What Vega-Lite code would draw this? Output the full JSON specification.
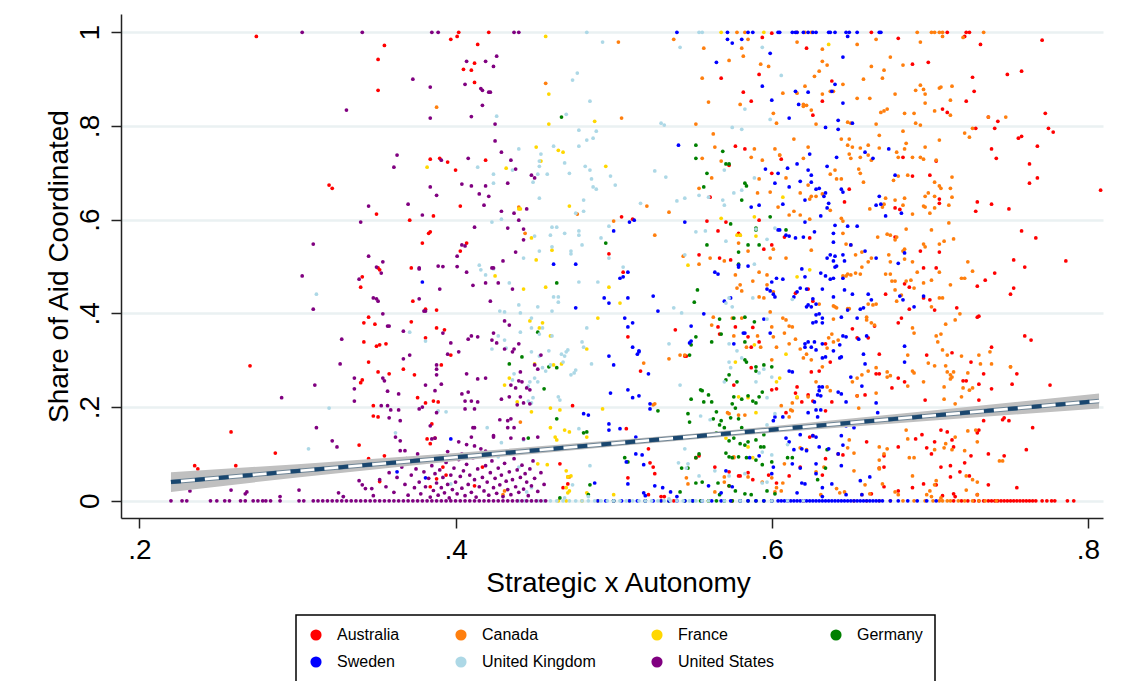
{
"$schema": "https://vega.github.io/schema/vega-lite/v6.json",
"width": 982, "height": 504,
"autosize": {"type": "none"},
"padding": {"left": 121, "top": 14, "right": 40, "bottom": 163},
"background": "white",
"config": {
 "view": {"stroke": null},
 "font": "Liberation Sans",
 "axis": {"domainColor": "#222222", "domainWidth": 1.5, "tickColor": "#222222", "tickWidth": 1.5, "tickSize": 10, "labelFont": "Liberation Sans", "labelFontSize": 28, "labelColor": "#000000", "titleFont": "Liberation Sans", "titleFontSize": 28, "titleFontWeight": "normal", "titleColor": "#000000", "gridColor": "#eaf1f2", "gridWidth": 2.5, "labelFlush": false, "labelOverlap": false},
 "axisX": {"grid": false, "labelPadding": 8, "titleBaseline": "alphabetic", "titleY": 73, "titleX": 497, "titleAlign": "center"},
 "axisY": {"grid": true, "labelAngle": -90, "labelAlign": "center", "labelBaseline": "alphabetic", "labelPadding": 13, "titleX": -48, "titleY": 252, "titleAlign": "center", "titleBaseline": "bottom", "titleAngle": -90},
 "legend": {"orient": "none", "legendX": 175, "legendY": 601, "columns": 4, "direction": "horizontal", "symbolType": "circle", "symbolSize": 125, "symbolStrokeWidth": 0, "symbolOpacity": 1, "labelFont": "Liberation Sans", "labelFontSize": 16, "labelColor": "#000000", "labelOffset": 13, "columnPadding": 53, "rowPadding": 11, "padding": 12, "strokeColor": "#000000", "strokeWidth": 1.5, "fillColor": "white", "gridAlign": "each"}
},
"datasets": {
 "fit": [
  {"x":0.22,"lo":0.019,"hi":0.061,"fit":0.040},
  {"x":0.30,"lo":0.050,"hi":0.078,"fit":0.0636},
  {"x":0.40,"lo":0.085,"hi":0.102,"fit":0.093},
  {"x":0.50,"lo":0.116,"hi":0.129,"fit":0.1225},
  {"x":0.55,"lo":0.131,"hi":0.143,"fit":0.137},
  {"x":0.60,"lo":0.145,"hi":0.159,"fit":0.1519},
  {"x":0.70,"lo":0.171,"hi":0.192,"fit":0.1813},
  {"x":0.807,"lo":0.197,"hi":0.229,"fit":0.213}
 ]
},
"layer": [
 {
  "data": {"values": [
{"c":"AU","x":0.274,"y":0.991},{"c":"AU","x":0.355,"y":0.972},{"c":"AU","x":0.351,"y":0.942},{"c":"AU","x":0.351,"y":0.876},{"c":"AU","x":0.397,"y":0.985},{"c":"AU","x":0.384,"y":0.729},{"c":"AU","x":0.39,"y":0.731},{"c":"AU","x":0.395,"y":0.723},{"c":"AU","x":0.32,"y":0.674},{"c":"AU","x":0.322,"y":0.667},{"c":"AU","x":0.35,"y":0.612},{"c":"AU","x":0.386,"y":0.608},{"c":"AU","x":0.371,"y":0.599},{"c":"AU","x":0.383,"y":0.571},{"c":"AU","x":0.384,"y":0.574},{"c":"AU","x":0.379,"y":0.55},{"c":"AU","x":0.372,"y":0.497},{"c":"AU","x":0.402,"y":1},{"c":"AU","x":0.421,"y":1},{"c":"AU","x":0.401,"y":0.991},{"c":"AU","x":0.414,"y":0.974},{"c":"AU","x":0.405,"y":0.921},{"c":"AU","x":0.41,"y":0.919},{"c":"AU","x":0.412,"y":0.934},{"c":"AU","x":0.412,"y":0.893},{"c":"AU","x":0.419,"y":0.727},{"c":"AU","x":0.4,"y":0.706},{"c":"AU","x":0.403,"y":0.629},{"c":"AU","x":0.407,"y":0.55},{"c":"AU","x":0.403,"y":0.533},{"c":"AU","x":0.497,"y":0.527},{"c":"AU","x":0.505,"y":0.606},{"c":"AU","x":0.512,"y":0.601},
{"c":"AU","x":0.341,"y":0.478},{"c":"AU","x":0.34,"y":0.456},{"c":"AU","x":0.351,"y":0.497},{"c":"AU","x":0.352,"y":0.493},{"c":"AU","x":0.373,"y":0.426},{"c":"AU","x":0.381,"y":0.409},{"c":"AU","x":0.388,"y":0.407},{"c":"AU","x":0.345,"y":0.392},{"c":"AU","x":0.342,"y":0.38},{"c":"AU","x":0.349,"y":0.377},{"c":"AU","x":0.342,"y":0.339},{"c":"AU","x":0.35,"y":0.33},{"c":"AU","x":0.352,"y":0.333},{"c":"AU","x":0.356,"y":0.335},{"c":"AU","x":0.345,"y":0.296},{"c":"AU","x":0.351,"y":0.275},{"c":"AU","x":0.358,"y":0.271},{"c":"AU","x":0.341,"y":0.258},{"c":"AU","x":0.34,"y":0.252},{"c":"AU","x":0.372,"y":0.382},{"c":"AU","x":0.374,"y":0.269},{"c":"AU","x":0.367,"y":0.281},{"c":"AU","x":0.381,"y":0.348},{"c":"AU","x":0.388,"y":0.369},{"c":"AU","x":0.393,"y":0.365},{"c":"AU","x":0.391,"y":0.29},{"c":"AU","x":0.397,"y":0.311},{"c":"AU","x":0.348,"y":0.203},{"c":"AU","x":0.348,"y":0.181},{"c":"AU","x":0.351,"y":0.179},{"c":"AU","x":0.376,"y":0.22},{"c":"AU","x":0.381,"y":0.209},{"c":"AU","x":0.386,"y":0.213},{"c":"AU","x":0.389,"y":0.211},{"c":"AU","x":0.387,"y":0.134},{"c":"AU","x":0.385,"y":0.164},{"c":"AU","x":0.384,"y":0.122},{"c":"AU","x":0.382,"y":0.132},{"c":"AU","x":0.339,"y":0.119},{"c":"AU","x":0.355,"y":0.096},{"c":"AU","x":0.345,"y":0.09},{"c":"AU","x":0.352,"y":0.041},{"c":"AU","x":0.384,"y":0.03},{"c":"AU","x":0.392,"y":0.072},{"c":"AU","x":0.394,"y":0.055},{"c":"AU","x":0.388,"y":0.047},{"c":"AU","x":0.27,"y":0.288},{"c":"AU","x":0.258,"y":0.147},{"c":"AU","x":0.261,"y":0.075},{"c":"AU","x":0.235,"y":0.075},{"c":"AU","x":0.237,"y":0.068},{"c":"AU","x":0.286,"y":0.102},
{"c":"AU","x":0.506,"y":0.488},{"c":"AU","x":0.509,"y":0.35},{"c":"AU","x":0.517,"y":0.277},{"c":"AU","x":0.474,"y":0.203},{"c":"AU","x":0.508,"y":0.154},{"c":"AU","x":0.466,"y":0.079},{"c":"AU","x":0.471,"y":0.036},{"c":"AU","x":0.468,"y":0.028},{"c":"AU","x":0.417,"y":0.072},{"c":"AU","x":0.412,"y":0.032},{"c":"AU","x":0.522,"y":0.111},{"c":"AU","x":0.523,"y":0.081},{"c":"AU","x":0.525,"y":0.072},{"c":"AU","x":0.509,"y":0.049},{"c":"AU","x":0.522,"y":0.013},{"c":"AU","x":0.526,"y":0.058},{"c":"AU","x":0.53,"y":0.009},{"c":"AU","x":0.532,"y":0.009},{"c":"AU","x":0.539,"y":0.365},{"c":"AU","x":0.545,"y":0.309},{"c":"AU","x":0.546,"y":0.309},{"c":"AU","x":0.566,"y":0.371},{"c":"AU","x":0.567,"y":0.356},{"c":"AU","x":0.577,"y":0.371},{"c":"AU","x":0.576,"y":0.247},{"c":"AU","x":0.587,"y":0.328},{"c":"AU","x":0.592,"y":0.339},{"c":"AU","x":0.585,"y":0.35},{"c":"AU","x":0.588,"y":0.37},{"c":"AU","x":0.554,"y":0.096},{"c":"AU","x":0.552,"y":0.092},{"c":"AU","x":0.564,"y":0.072},{"c":"AU","x":0.573,"y":0.032},{"c":"AU","x":0.573,"y":0.062},{"c":"AU","x":0.579,"y":0.053},{"c":"AU","x":0.58,"y":0.053},{"c":"AU","x":0.585,"y":0.06},{"c":"AU","x":0.588,"y":0.045},{"c":"AU","x":0.598,"y":0.055},{"c":"AU","x":0.603,"y":0.038},{"c":"AU","x":0.6,"y":0.237},{"c":"AU","x":0.603,"y":0.239},{"c":"AU","x":0.587,"y":0.284},
{"c":"AU","x":0.568,"y":0.902},{"c":"AU","x":0.582,"y":0.872},{"c":"AU","x":0.587,"y":0.853},{"c":"AU","x":0.594,"y":0.989},{"c":"AU","x":0.592,"y":0.91},{"c":"AU","x":0.6,"y":0.998},{"c":"AU","x":0.577,"y":0.757},{"c":"AU","x":0.583,"y":0.751},{"c":"AU","x":0.573,"y":0.716},{"c":"AU","x":0.606,"y":0.729},{"c":"AU","x":0.6,"y":0.699},{"c":"AU","x":0.561,"y":0.648},{"c":"AU","x":0.559,"y":0.597},{"c":"AU","x":0.571,"y":0.595},{"c":"AU","x":0.579,"y":0.571},{"c":"AU","x":0.592,"y":0.599},{"c":"AU","x":0.595,"y":0.537},{"c":"AU","x":0.6,"y":0.546},{"c":"AU","x":0.566,"y":0.576},{"c":"AU","x":0.554,"y":0.525},{"c":"AU","x":0.567,"y":0.518},{"c":"AU","x":0.574,"y":0.514},
{"c":"AU","x":0.663,"y":1},{"c":"AU","x":0.711,"y":1},{"c":"AU","x":0.722,"y":0.991},{"c":"AU","x":0.723,"y":1},{"c":"AU","x":0.725,"y":1},{"c":"AU","x":0.68,"y":0.987},{"c":"AU","x":0.622,"y":0.966},{"c":"AU","x":0.732,"y":0.974},{"c":"AU","x":0.771,"y":0.983},{"c":"AU","x":0.699,"y":0.936},{"c":"AU","x":0.689,"y":0.932},{"c":"AU","x":0.727,"y":0.904},{"c":"AU","x":0.749,"y":0.91},{"c":"AU","x":0.758,"y":0.917},{"c":"AU","x":0.638,"y":0.896},{"c":"AU","x":0.632,"y":0.853},{"c":"AU","x":0.626,"y":0.823},{"c":"AU","x":0.728,"y":0.874},{"c":"AU","x":0.723,"y":0.853},{"c":"AU","x":0.708,"y":0.836},{"c":"AU","x":0.711,"y":0.829},{"c":"AU","x":0.743,"y":0.81},{"c":"AU","x":0.737,"y":0.819},{"c":"AU","x":0.773,"y":0.827},{"c":"AU","x":0.729,"y":0.795},{"c":"AU","x":0.741,"y":0.795},{"c":"AU","x":0.775,"y":0.795},{"c":"AU","x":0.778,"y":0.787},{"c":"AU","x":0.756,"y":0.774},{"c":"AU","x":0.758,"y":0.778},{"c":"AU","x":0.768,"y":0.757},{"c":"AU","x":0.739,"y":0.751},{"c":"AU","x":0.742,"y":0.731},{"c":"AU","x":0.763,"y":0.719},{"c":"AU","x":0.768,"y":0.689},{"c":"AU","x":0.763,"y":0.678},{"c":"AU","x":0.808,"y":0.663},{"c":"AU","x":0.683,"y":0.733},{"c":"AU","x":0.704,"y":0.725},{"c":"AU","x":0.689,"y":0.693},{"c":"AU","x":0.7,"y":0.695},{"c":"AU","x":0.649,"y":0.665},{"c":"AU","x":0.646,"y":0.638},{"c":"AU","x":0.706,"y":0.635},{"c":"AU","x":0.706,"y":0.644},{"c":"AU","x":0.73,"y":0.638},{"c":"AU","x":0.739,"y":0.633},{"c":"AU","x":0.729,"y":0.618},{"c":"AU","x":0.75,"y":0.623},{"c":"AU","x":0.678,"y":0.625},{"c":"AU","x":0.681,"y":0.622},{"c":"AU","x":0.624,"y":0.561},{"c":"AU","x":0.608,"y":0.563},{"c":"AU","x":0.678,"y":0.563},{"c":"AU","x":0.758,"y":0.576},{"c":"AU","x":0.767,"y":0.561},{"c":"AU","x":0.694,"y":0.533},{"c":"AU","x":0.706,"y":0.531},{"c":"AU","x":0.753,"y":0.514},{"c":"AU","x":0.76,"y":0.499},{"c":"AU","x":0.786,"y":0.512},{"c":"AU","x":0.696,"y":0.497},{"c":"AU","x":0.704,"y":0.497},
{"c":"AU","x":0.741,"y":0.486},{"c":"AU","x":0.735,"y":0.471},{"c":"AU","x":0.73,"y":0.458},{"c":"AU","x":0.753,"y":0.454},{"c":"AU","x":0.751,"y":0.441},{"c":"AU","x":0.672,"y":0.441},{"c":"AU","x":0.684,"y":0.463},{"c":"AU","x":0.687,"y":0.456},{"c":"AU","x":0.7,"y":0.429},{"c":"AU","x":0.703,"y":0.407},{"c":"AU","x":0.696,"y":0.433},{"c":"AU","x":0.687,"y":0.409},{"c":"AU","x":0.717,"y":0.412},{"c":"AU","x":0.68,"y":0.38},{"c":"AU","x":0.682,"y":0.39},{"c":"AU","x":0.731,"y":0.394},{"c":"AU","x":0.73,"y":0.392},{"c":"AU","x":0.76,"y":0.352},{"c":"AU","x":0.764,"y":0.343},{"c":"AU","x":0.739,"y":0.328},{"c":"AU","x":0.714,"y":0.316},{"c":"AU","x":0.698,"y":0.311},{"c":"AU","x":0.726,"y":0.296},{"c":"AU","x":0.734,"y":0.271},{"c":"AU","x":0.755,"y":0.271},{"c":"AU","x":0.721,"y":0.256},{"c":"AU","x":0.723,"y":0.256},{"c":"AU","x":0.731,"y":0.249},{"c":"AU","x":0.739,"y":0.239},{"c":"AU","x":0.752,"y":0.249},{"c":"AU","x":0.776,"y":0.247},{"c":"AU","x":0.668,"y":0.313},{"c":"AU","x":0.68,"y":0.262},{"c":"AU","x":0.676,"y":0.241},{"c":"AU","x":0.684,"y":0.254},{"c":"AU","x":0.668,"y":0.271},{"c":"AU","x":0.666,"y":0.271},{"c":"AU","x":0.697,"y":0.215},{"c":"AU","x":0.731,"y":0.215},{"c":"AU","x":0.637,"y":0.296},{"c":"AU","x":0.63,"y":0.277},{"c":"AU","x":0.625,"y":0.275},{"c":"AU","x":0.616,"y":0.243},{"c":"AU","x":0.615,"y":0.23},{"c":"AU","x":0.619,"y":0.211},{"c":"AU","x":0.626,"y":0.213},{"c":"AU","x":0.623,"y":0.226},{"c":"AU","x":0.638,"y":0.211},{"c":"AU","x":0.634,"y":0.192},{"c":"AU","x":0.609,"y":0.188},{"c":"AU","x":0.654,"y":0.224},{"c":"AU","x":0.659,"y":0.226},{"c":"AU","x":0.651,"y":0.367},{"c":"AU","x":0.654,"y":0.348},{"c":"AU","x":0.661,"y":0.348},{"c":"AU","x":0.665,"y":0.373},{"c":"AU","x":0.623,"y":0.452},{"c":"AU","x":0.615,"y":0.443},{"c":"AU","x":0.626,"y":0.426},{"c":"AU","x":0.634,"y":0.335},{"c":"AU","x":0.765,"y":0.156},{"c":"AU","x":0.747,"y":0.177},{"c":"AU","x":0.75,"y":0.171},{"c":"AU","x":0.746,"y":0.173},{"c":"AU","x":0.728,"y":0.192},{"c":"AU","x":0.731,"y":0.151},{"c":"AU","x":0.73,"y":0.145},{"c":"AU","x":0.734,"y":0.171},{"c":"AU","x":0.707,"y":0.151},{"c":"AU","x":0.711,"y":0.147},{"c":"AU","x":0.714,"y":0.13},{"c":"AU","x":0.715,"y":0.115},{"c":"AU","x":0.722,"y":0.081},{"c":"AU","x":0.726,"y":0.096},{"c":"AU","x":0.691,"y":0.132},{"c":"AU","x":0.695,"y":0.141},{"c":"AU","x":0.703,"y":0.126},{"c":"AU","x":0.66,"y":0.126},{"c":"AU","x":0.68,"y":0.115},{"c":"AU","x":0.671,"y":0.096},{"c":"AU","x":0.671,"y":0.072},{"c":"AU","x":0.668,"y":0.07},{"c":"AU","x":0.698,"y":0.113},{"c":"AU","x":0.701,"y":0.1},{"c":"AU","x":0.737,"y":0.1},{"c":"AU","x":0.747,"y":0.096},{"c":"AU","x":0.761,"y":0.109},{"c":"AU","x":0.707,"y":0.072},{"c":"AU","x":0.713,"y":0.075},{"c":"AU","x":0.713,"y":0.051},{"c":"AU","x":0.719,"y":0.062},{"c":"AU","x":0.725,"y":0.053},{"c":"AU","x":0.737,"y":0.034},{"c":"AU","x":0.755,"y":0.028},{"c":"AU","x":0.689,"y":0.028},{"c":"AU","x":0.696,"y":0.036},{"c":"AU","x":0.704,"y":0.034},{"c":"AU","x":0.708,"y":0.011},{"c":"AU","x":0.715,"y":0.015},{"c":"AU","x":0.716,"y":0.009},{"c":"AU","x":0.73,"y":0.013},{"c":"AU","x":0.624,"y":0.136},{"c":"AU","x":0.626,"y":0.139},{"c":"AU","x":0.645,"y":0.098},{"c":"AU","x":0.642,"y":0.1},{"c":"AU","x":0.634,"y":0.09},{"c":"AU","x":0.618,"y":0.072},{"c":"AU","x":0.611,"y":0.053},{"c":"AU","x":0.632,"y":0.055},{"c":"AU","x":0.671,"y":0.03},{"c":"AU","x":0.68,"y":0.021},{"c":"AU","x":0.663,"y":0.015},
{"c":"AU","x":0.538,"y":0},{"c":"AU","x":0.575,"y":0},{"c":"AU","x":0.62,"y":0},{"c":"AU","x":0.715,"y":0},{"c":"AU","x":0.72,"y":0},{"c":"AU","x":0.724,"y":0},{"c":"AU","x":0.728,"y":0},{"c":"AU","x":0.731,"y":0},{"c":"AU","x":0.734,"y":0},{"c":"AU","x":0.737,"y":0},{"c":"AU","x":0.739,"y":0},{"c":"AU","x":0.741,"y":0},{"c":"AU","x":0.743,"y":0},{"c":"AU","x":0.745,"y":0},{"c":"AU","x":0.747,"y":0},{"c":"AU","x":0.749,"y":0},{"c":"AU","x":0.751,"y":0},{"c":"AU","x":0.753,"y":0},{"c":"AU","x":0.755,"y":0},{"c":"AU","x":0.757,"y":0},{"c":"AU","x":0.759,"y":0},{"c":"AU","x":0.761,"y":0},{"c":"AU","x":0.763,"y":0},{"c":"AU","x":0.765,"y":0},{"c":"AU","x":0.767,"y":0},{"c":"AU","x":0.771,"y":0},{"c":"AU","x":0.774,"y":0},{"c":"AU","x":0.777,"y":0},{"c":"AU","x":0.779,"y":0},{"c":"AU","x":0.787,"y":0},{"c":"AU","x":0.791,"y":0},
{"c":"CA","x":0.616,"y":1},{"c":"CA","x":0.621,"y":1},{"c":"CA","x":0.625,"y":1},{"c":"CA","x":0.692,"y":1},{"c":"CA","x":0.701,"y":1},{"c":"CA","x":0.703,"y":1},{"c":"CA","x":0.706,"y":1},{"c":"CA","x":0.708,"y":1},{"c":"CA","x":0.708,"y":0.991},{"c":"CA","x":0.734,"y":1},{"c":"CA","x":0.721,"y":0.989},{"c":"CA","x":0.578,"y":1},{"c":"CA","x":0.583,"y":1},{"c":"CA","x":0.585,"y":0.985},{"c":"CA","x":0.538,"y":0.985},{"c":"CA","x":0.388,"y":0.84},
{"c":"CA","x":0.616,"y":0.979},{"c":"CA","x":0.632,"y":0.964},{"c":"CA","x":0.654,"y":0.974},{"c":"CA","x":0.666,"y":0.985},{"c":"CA","x":0.694,"y":0.979},{"c":"CA","x":0.632,"y":0.938},{"c":"CA","x":0.635,"y":0.93},{"c":"CA","x":0.675,"y":0.947},{"c":"CA","x":0.663,"y":0.927},{"c":"CA","x":0.671,"y":0.919},{"c":"CA","x":0.683,"y":0.93},{"c":"CA","x":0.63,"y":0.917},{"c":"CA","x":0.627,"y":0.906},{"c":"CA","x":0.67,"y":0.902},{"c":"CA","x":0.658,"y":0.9},{"c":"CA","x":0.621,"y":0.885},{"c":"CA","x":0.607,"y":0.87},{"c":"CA","x":0.616,"y":0.87},{"c":"CA","x":0.645,"y":0.889},{"c":"CA","x":0.632,"y":0.868},{"c":"CA","x":0.637,"y":0.874},{"c":"CA","x":0.639,"y":0.874},{"c":"CA","x":0.654,"y":0.859},{"c":"CA","x":0.662,"y":0.859},{"c":"CA","x":0.678,"y":0.868},{"c":"CA","x":0.691,"y":0.876},{"c":"CA","x":0.694,"y":0.887},{"c":"CA","x":0.696,"y":0.878},{"c":"CA","x":0.697,"y":0.868},{"c":"CA","x":0.706,"y":0.881},{"c":"CA","x":0.707,"y":0.883},{"c":"CA","x":0.714,"y":0.885},{"c":"CA","x":0.713,"y":0.855},{"c":"CA","x":0.697,"y":0.849},{"c":"CA","x":0.62,"y":0.846},{"c":"CA","x":0.622,"y":0.844},{"c":"CA","x":0.62,"y":0.842},{"c":"CA","x":0.625,"y":0.834},{"c":"CA","x":0.628,"y":0.804},{"c":"CA","x":0.669,"y":0.829},{"c":"CA","x":0.671,"y":0.832},{"c":"CA","x":0.673,"y":0.836},{"c":"CA","x":0.684,"y":0.827},{"c":"CA","x":0.69,"y":0.827},{"c":"CA","x":0.703,"y":0.832},{"c":"CA","x":0.713,"y":0.823},{"c":"CA","x":0.737,"y":0.819},{"c":"CA","x":0.748,"y":0.819},{"c":"CA","x":0.648,"y":0.808},{"c":"CA","x":0.65,"y":0.806},{"c":"CA","x":0.666,"y":0.804},{"c":"CA","x":0.691,"y":0.806},{"c":"CA","x":0.694,"y":0.802},{"c":"CA","x":0.727,"y":0.795},{"c":"CA","x":0.725,"y":0.776},{"c":"CA","x":0.722,"y":0.785},{"c":"CA","x":0.683,"y":0.789},{"c":"CA","x":0.668,"y":0.78},{"c":"CA","x":0.644,"y":0.772},{"c":"CA","x":0.649,"y":0.772},{"c":"CA","x":0.614,"y":0.772},{"c":"CA","x":0.685,"y":0.763},{"c":"CA","x":0.706,"y":0.77},{"c":"CA","x":0.648,"y":0.759},{"c":"CA","x":0.651,"y":0.755},{"c":"CA","x":0.656,"y":0.753},{"c":"CA","x":0.661,"y":0.759},{"c":"CA","x":0.668,"y":0.753},{"c":"CA","x":0.679,"y":0.744},{"c":"CA","x":0.684,"y":0.751},{"c":"CA","x":0.697,"y":0.755},{"c":"CA","x":0.623,"y":0.755},{"c":"CA","x":0.649,"y":0.74},{"c":"CA","x":0.65,"y":0.731},{"c":"CA","x":0.656,"y":0.733},{"c":"CA","x":0.661,"y":0.738},{"c":"CA","x":0.663,"y":0.727},{"c":"CA","x":0.68,"y":0.733},{"c":"CA","x":0.689,"y":0.733},{"c":"CA","x":0.694,"y":0.733},{"c":"CA","x":0.696,"y":0.729},{"c":"CA","x":0.704,"y":0.727},{"c":"CA","x":0.62,"y":0.731},{"c":"CA","x":0.605,"y":0.738},{"c":"CA","x":0.64,"y":0.706},{"c":"CA","x":0.637,"y":0.697},{"c":"CA","x":0.655,"y":0.708},{"c":"CA","x":0.656,"y":0.699},{"c":"CA","x":0.641,"y":0.687},{"c":"CA","x":0.644,"y":0.687},{"c":"CA","x":0.658,"y":0.68},{"c":"CA","x":0.677,"y":0.684},{"c":"CA","x":0.68,"y":0.693},{"c":"CA","x":0.686,"y":0.695},{"c":"CA","x":0.703,"y":0.68},{"c":"CA","x":0.706,"y":0.672},{"c":"CA","x":0.707,"y":0.667},{"c":"CA","x":0.714,"y":0.691},{"c":"CA","x":0.609,"y":0.689},{"c":"CA","x":0.623,"y":0.674},{"c":"CA","x":0.618,"y":0.657},{"c":"CA","x":0.632,"y":0.655},{"c":"CA","x":0.628,"y":0.65},{"c":"CA","x":0.624,"y":0.644},{"c":"CA","x":0.625,"y":0.65},{"c":"CA","x":0.672,"y":0.646},{"c":"CA","x":0.678,"y":0.642},{"c":"CA","x":0.684,"y":0.646},{"c":"CA","x":0.697,"y":0.65},{"c":"CA","x":0.703,"y":0.65},{"c":"CA","x":0.699,"y":0.657},{"c":"CA","x":0.714,"y":0.648},{"c":"CA","x":0.713,"y":0.667},{"c":"CA","x":0.671,"y":0.633},{"c":"CA","x":0.67,"y":0.627},{"c":"CA","x":0.662,"y":0.623},{"c":"CA","x":0.683,"y":0.631},{"c":"CA","x":0.696,"y":0.629},{"c":"CA","x":0.697,"y":0.627},{"c":"CA","x":0.703,"y":0.625},{"c":"CA","x":0.7,"y":0.614},{"c":"CA","x":0.689,"y":0.612},{"c":"CA","x":0.712,"y":0.631},{"c":"CA","x":0.614,"y":0.618},{"c":"CA","x":0.611,"y":0.61},{"c":"CA","x":0.618,"y":0.61},{"c":"CA","x":0.637,"y":0.62},{"c":"CA","x":0.644,"y":0.603},{"c":"CA","x":0.645,"y":0.597},{"c":"CA","x":0.624,"y":0.601},{"c":"CA","x":0.712,"y":0.593},{"c":"CA","x":0.645,"y":0.571},{"c":"CA","x":0.667,"y":0.563},{"c":"CA","x":0.673,"y":0.569},{"c":"CA","x":0.675,"y":0.567},{"c":"CA","x":0.678,"y":0.557},{"c":"CA","x":0.685,"y":0.58},{"c":"CA","x":0.679,"y":0.563},{"c":"CA","x":0.696,"y":0.548},{"c":"CA","x":0.697,"y":0.542},{"c":"CA","x":0.684,"y":0.537},{"c":"CA","x":0.683,"y":0.533},{"c":"CA","x":0.706,"y":0.548},{"c":"CA","x":0.709,"y":0.554},{"c":"CA","x":0.715,"y":0.559},{"c":"CA","x":0.701,"y":0.578},{"c":"CA","x":0.647,"y":0.548},{"c":"CA","x":0.65,"y":0.546},{"c":"CA","x":0.653,"y":0.525},{"c":"CA","x":0.657,"y":0.531},{"c":"CA","x":0.661,"y":0.51},{"c":"CA","x":0.663,"y":0.518},{"c":"CA","x":0.674,"y":0.525},{"c":"CA","x":0.675,"y":0.51},{"c":"CA","x":0.684,"y":0.516},{"c":"CA","x":0.689,"y":0.51},{"c":"CA","x":0.724,"y":0.51},{"c":"CA","x":0.625,"y":0.535},{"c":"CA","x":0.609,"y":0.518},{"c":"CA","x":0.657,"y":0.499},
{"c":"CA","x":0.648,"y":0.484},{"c":"CA","x":0.65,"y":0.482},{"c":"CA","x":0.653,"y":0.486},{"c":"CA","x":0.656,"y":0.484},{"c":"CA","x":0.672,"y":0.484},{"c":"CA","x":0.675,"y":0.484},{"c":"CA","x":0.678,"y":0.469},{"c":"CA","x":0.676,"y":0.469},{"c":"CA","x":0.692,"y":0.488},{"c":"CA","x":0.706,"y":0.488},{"c":"CA","x":0.722,"y":0.475},{"c":"CA","x":0.727,"y":0.49},{"c":"CA","x":0.685,"y":0.469},{"c":"CA","x":0.688,"y":0.471},{"c":"CA","x":0.69,"y":0.454},{"c":"CA","x":0.696,"y":0.465},{"c":"CA","x":0.701,"y":0.471},{"c":"CA","x":0.713,"y":0.461},{"c":"CA","x":0.72,"y":0.475},{"c":"CA","x":0.678,"y":0.45},{"c":"CA","x":0.682,"y":0.439},{"c":"CA","x":0.679,"y":0.426},{"c":"CA","x":0.661,"y":0.42},{"c":"CA","x":0.666,"y":0.42},{"c":"CA","x":0.706,"y":0.433},{"c":"CA","x":0.708,"y":0.433},{"c":"CA","x":0.701,"y":0.414},{"c":"CA","x":0.719,"y":0.399},{"c":"CA","x":0.716,"y":0.386},{"c":"CA","x":0.71,"y":0.377},{"c":"CA","x":0.707,"y":0.356},{"c":"CA","x":0.705,"y":0.339},{"c":"CA","x":0.704,"y":0.352},{"c":"CA","x":0.689,"y":0.369},{"c":"CA","x":0.69,"y":0.358},{"c":"CA","x":0.686,"y":0.311},{"c":"CA","x":0.699,"y":0.294},{"c":"CA","x":0.703,"y":0.288},{"c":"CA","x":0.708,"y":0.322},{"c":"CA","x":0.711,"y":0.311},{"c":"CA","x":0.72,"y":0.309},{"c":"CA","x":0.731,"y":0.311},{"c":"CA","x":0.738,"y":0.318},{"c":"CA","x":0.732,"y":0.292},{"c":"CA","x":0.739,"y":0.292},{"c":"CA","x":0.751,"y":0.286},{"c":"CA","x":0.71,"y":0.288},{"c":"CA","x":0.711,"y":0.275},{"c":"CA","x":0.715,"y":0.275},{"c":"CA","x":0.713,"y":0.269},{"c":"CA","x":0.714,"y":0.264},{"c":"CA","x":0.713,"y":0.26},{"c":"CA","x":0.724,"y":0.273},{"c":"CA","x":0.721,"y":0.241},{"c":"CA","x":0.727,"y":0.241},{"c":"CA","x":0.725,"y":0.236},{"c":"CA","x":0.709,"y":0.243},{"c":"CA","x":0.709,"y":0.217},{"c":"CA","x":0.72,"y":0.222},{"c":"CA","x":0.716,"y":0.207},{"c":"CA","x":0.689,"y":0.277},{"c":"CA","x":0.69,"y":0.273},{"c":"CA","x":0.696,"y":0.254},{"c":"CA","x":0.686,"y":0.245},{"c":"CA","x":0.673,"y":0.275},{"c":"CA","x":0.666,"y":0.284},{"c":"CA","x":0.675,"y":0.267},{"c":"CA","x":0.673,"y":0.264},{"c":"CA","x":0.666,"y":0.23},{"c":"CA","x":0.654,"y":0.224},{"c":"CA","x":0.655,"y":0.198},{"c":"CA","x":0.657,"y":0.269},{"c":"CA","x":0.654,"y":0.262},{"c":"CA","x":0.651,"y":0.254},{"c":"CA","x":0.661,"y":0.277},{"c":"CA","x":0.664,"y":0.418},{"c":"CA","x":0.64,"y":0.414},{"c":"CA","x":0.641,"y":0.412},{"c":"CA","x":0.639,"y":0.388},{"c":"CA","x":0.638,"y":0.356},{"c":"CA","x":0.639,"y":0.339},{"c":"CA","x":0.642,"y":0.343},{"c":"CA","x":0.632,"y":0.286},{"c":"CA","x":0.628,"y":0.254},{"c":"CA","x":0.635,"y":0.243},{"c":"CA","x":0.637,"y":0.235},{"c":"CA","x":0.623,"y":0.222},{"c":"CA","x":0.62,"y":0.305},{"c":"CA","x":0.622,"y":0.313},{"c":"CA","x":0.625,"y":0.301},{"c":"CA","x":0.618,"y":0.324},{"c":"CA","x":0.608,"y":0.358},{"c":"CA","x":0.615,"y":0.345},{"c":"CA","x":0.611,"y":0.335},{"c":"CA","x":0.613,"y":0.209},{"c":"CA","x":0.616,"y":0.22},{"c":"CA","x":0.612,"y":0.194},{"c":"CA","x":0.606,"y":0.203},{"c":"CA","x":0.607,"y":0.39},{"c":"CA","x":0.609,"y":0.386},{"c":"CA","x":0.613,"y":0.371},{"c":"CA","x":0.611,"y":0.373},{"c":"CA","x":0.636,"y":0.348},{"c":"CA","x":0.635,"y":0.326},{"c":"CA","x":0.645,"y":0.48},{"c":"CA","x":0.647,"y":0.48},{"c":"CA","x":0.63,"y":0.42},{"c":"CA","x":0.639,"y":0.416},{"c":"CA","x":0.649,"y":0.41},{"c":"CA","x":0.648,"y":0.41},{"c":"CA","x":0.66,"y":0.392},{"c":"CA","x":0.66,"y":0.386},{"c":"CA","x":0.663,"y":0.38},{"c":"CA","x":0.665,"y":0.375},{"c":"CA","x":0.649,"y":0.13},{"c":"CA","x":0.652,"y":0.102},{"c":"CA","x":0.648,"y":0.113},{"c":"CA","x":0.668,"y":0.115},{"c":"CA","x":0.673,"y":0.111},{"c":"CA","x":0.668,"y":0.087},{"c":"CA","x":0.671,"y":0.1},{"c":"CA","x":0.668,"y":0.07},{"c":"CA","x":0.668,"y":0.068},{"c":"CA","x":0.685,"y":0.151},{"c":"CA","x":0.686,"y":0.132},{"c":"CA","x":0.687,"y":0.092},{"c":"CA","x":0.69,"y":0.092},{"c":"CA","x":0.689,"y":0.053},{"c":"CA","x":0.703,"y":0.109},{"c":"CA","x":0.709,"y":0.113},{"c":"CA","x":0.71,"y":0.122},{"c":"CA","x":0.714,"y":0.109},{"c":"CA","x":0.704,"y":0.043},{"c":"CA","x":0.703,"y":0.034},{"c":"CA","x":0.698,"y":0.013},{"c":"CA","x":0.7,"y":0.021},{"c":"CA","x":0.701,"y":0.009},{"c":"CA","x":0.707,"y":0.006},{"c":"CA","x":0.716,"y":0.136},{"c":"CA","x":0.724,"y":0.149},{"c":"CA","x":0.729,"y":0.151},{"c":"CA","x":0.73,"y":0.126},{"c":"CA","x":0.722,"y":0.107},{"c":"CA","x":0.744,"y":0.085},{"c":"CA","x":0.746,"y":0.085},{"c":"CA","x":0.751,"y":0.286},{"c":"CA","x":0.723,"y":0.053},{"c":"CA","x":0.727,"y":0.045},{"c":"CA","x":0.73,"y":0.04},{"c":"CA","x":0.73,"y":0.013},{"c":"CA","x":0.723,"y":0.023},{"c":"CA","x":0.652,"y":0.064},{"c":"CA","x":0.659,"y":0.034},{"c":"CA","x":0.662,"y":0.015},{"c":"CA","x":0.657,"y":0.013},{"c":"CA","x":0.67,"y":0.036},{"c":"CA","x":0.678,"y":0.019},{"c":"CA","x":0.68,"y":0.013},{"c":"CA","x":0.641,"y":0.026},{"c":"CA","x":0.643,"y":0.017},{"c":"CA","x":0.646,"y":0.019},{"c":"CA","x":0.618,"y":0.113},{"c":"CA","x":0.622,"y":0.109},{"c":"CA","x":0.608,"y":0.079},{"c":"CA","x":0.628,"y":0.062},{"c":"CA","x":0.633,"y":0.072},{"c":"CA","x":0.631,"y":0.013},{"c":"CA","x":0.607,"y":0.038},{"c":"CA","x":0.606,"y":0.021},{"c":"CA","x":0.613,"y":0.192},{"c":"CA","x":0.611,"y":0.179},
{"c":"CA","x":0.552,"y":0.804},{"c":"CA","x":0.563,"y":0.783},{"c":"CA","x":0.564,"y":0.755},{"c":"CA","x":0.556,"y":0.731},{"c":"CA","x":0.568,"y":0.725},{"c":"CA","x":0.562,"y":0.689},{"c":"CA","x":0.554,"y":0.667},{"c":"CA","x":0.581,"y":0.966},{"c":"CA","x":0.582,"y":0.949},{"c":"CA","x":0.573,"y":0.94},{"c":"CA","x":0.556,"y":0.902},{"c":"CA","x":0.557,"y":0.966},{"c":"CA","x":0.56,"y":0.851},{"c":"CA","x":0.58,"y":0.846},{"c":"CA","x":0.593,"y":0.932},{"c":"CA","x":0.598,"y":0.927},{"c":"CA","x":0.601,"y":0.827},{"c":"CA","x":0.603,"y":0.806},{"c":"CA","x":0.602,"y":0.751},{"c":"CA","x":0.605,"y":0.738},{"c":"CA","x":0.589,"y":0.751},{"c":"CA","x":0.587,"y":0.733},{"c":"CA","x":0.594,"y":0.727},{"c":"CA","x":0.592,"y":0.687},{"c":"CA","x":0.591,"y":0.657},{"c":"CA","x":0.599,"y":0.659},{"c":"CA","x":0.604,"y":0.627},{"c":"CA","x":0.601,"y":0.537},{"c":"CA","x":0.599,"y":0.518},{"c":"CA","x":0.585,"y":0.533},{"c":"CA","x":0.579,"y":0.55},{"c":"CA","x":0.58,"y":0.567},{"c":"CA","x":0.561,"y":0.518},{"c":"CA","x":0.554,"y":0.505},{"c":"CA","x":0.544,"y":0.522},{"c":"CA","x":0.57,"y":0.512},{"c":"CA","x":0.535,"y":0.616},{"c":"CA","x":0.521,"y":0.629},{"c":"CA","x":0.526,"y":0.567},{"c":"CA","x":0.5,"y":0.597},{"c":"CA","x":0.44,"y":0.627},{"c":"CA","x":0.444,"y":0.571},{"c":"CA","x":0.477,"y":0.612},{"c":"CA","x":0.503,"y":0.979},{"c":"CA","x":0.457,"y":0.891},{"c":"CA","x":0.505,"y":0.817},
{"c":"CA","x":0.519,"y":0.294},{"c":"CA","x":0.526,"y":0.207},{"c":"CA","x":0.525,"y":0.205},{"c":"CA","x":0.535,"y":0.303},{"c":"CA","x":0.542,"y":0.311},{"c":"CA","x":0.545,"y":0.311},{"c":"CA","x":0.441,"y":0.168},{"c":"CA","x":0.471,"y":0.051},{"c":"CA","x":0.472,"y":0.051},{"c":"CA","x":0.431,"y":0.021},{"c":"CA","x":0.43,"y":0.013},{"c":"CA","x":0.546,"y":0.049},{"c":"CA","x":0.547,"y":0.036},{"c":"CA","x":0.57,"y":0.051},{"c":"CA","x":0.57,"y":0.04},{"c":"CA","x":0.564,"y":0.019},{"c":"CA","x":0.572,"y":0.188},{"c":"CA","x":0.576,"y":0.094},{"c":"CA","x":0.576,"y":0.092},{"c":"CA","x":0.585,"y":0.051},{"c":"CA","x":0.594,"y":0.04},{"c":"CA","x":0.6,"y":0.049},{"c":"CA","x":0.603,"y":0.028},{"c":"CA","x":0.602,"y":0.019},{"c":"CA","x":0.577,"y":0.482},{"c":"CA","x":0.58,"y":0.461},{"c":"CA","x":0.581,"y":0.448},{"c":"CA","x":0.578,"y":0.454},{"c":"CA","x":0.592,"y":0.488},{"c":"CA","x":0.597,"y":0.482},{"c":"CA","x":0.597,"y":0.461},{"c":"CA","x":0.601,"y":0.446},{"c":"CA","x":0.588,"y":0.469},{"c":"CA","x":0.595,"y":0.433},{"c":"CA","x":0.592,"y":0.435},{"c":"CA","x":0.599,"y":0.403},{"c":"CA","x":0.6,"y":0.371},{"c":"CA","x":0.601,"y":0.35},{"c":"CA","x":0.603,"y":0.328},{"c":"CA","x":0.6,"y":0.301},{"c":"CA","x":0.563,"y":0.392},{"c":"CA","x":0.562,"y":0.375},{"c":"CA","x":0.575,"y":0.39},{"c":"CA","x":0.576,"y":0.352},{"c":"CA","x":0.581,"y":0.39},{"c":"CA","x":0.584,"y":0.328},{"c":"CA","x":0.591,"y":0.352},{"c":"CA","x":0.593,"y":0.328},{"c":"CA","x":0.573,"y":0.186},{"c":"CA","x":0.579,"y":0.183},{"c":"CA","x":0.583,"y":0.183},
{"c":"CA","x":0.652,"y":0},{"c":"CA","x":0.66,"y":0},{"c":"CA","x":0.668,"y":0},{"c":"CA","x":0.675,"y":0},{"c":"CA","x":0.683,"y":0},{"c":"CA","x":0.69,"y":0},{"c":"CA","x":0.697,"y":0},{"c":"CA","x":0.702,"y":0},{"c":"CA","x":0.706,"y":0},{"c":"CA","x":0.708,"y":0},{"c":"CA","x":0.711,"y":0},{"c":"CA","x":0.713,"y":0},{"c":"CA","x":0.718,"y":0},{"c":"CA","x":0.722,"y":0},{"c":"CA","x":0.727,"y":0},{"c":"CA","x":0.731,"y":0},{"c":"CA","x":0.735,"y":0},{"c":"CA","x":0.742,"y":0},
{"c":"FR","x":0.457,"y":0.991},{"c":"FR","x":0.568,"y":1},{"c":"FR","x":0.595,"y":1},{"c":"FR","x":0.459,"y":0.868},{"c":"FR","x":0.459,"y":0.804},{"c":"FR","x":0.488,"y":0.81},{"c":"FR","x":0.451,"y":0.755},{"c":"FR","x":0.465,"y":0.748},{"c":"FR","x":0.468,"y":0.744},{"c":"FR","x":0.454,"y":0.725},{"c":"FR","x":0.432,"y":0.71},{"c":"FR","x":0.495,"y":0.714},{"c":"FR","x":0.472,"y":0.629},{"c":"FR","x":0.44,"y":0.623},{"c":"FR","x":0.441,"y":0.623},{"c":"FR","x":0.448,"y":0.561},{"c":"FR","x":0.451,"y":0.514},{"c":"FR","x":0.461,"y":0.535},{"c":"FR","x":0.568,"y":0.603},{"c":"FR","x":0.59,"y":0.565},{"c":"FR","x":0.589,"y":0.606},{"c":"FR","x":0.547,"y":0.503},{"c":"FR","x":0.578,"y":0.567},{"c":"FR","x":0.58,"y":0.567},{"c":"FR","x":0.382,"y":0.712},{"c":"FR","x":0.636,"y":0.974},{"c":"FR","x":0.607,"y":0.648},
{"c":"FR","x":0.425,"y":0.48},{"c":"FR","x":0.443,"y":0.452},{"c":"FR","x":0.457,"y":0.456},{"c":"FR","x":0.46,"y":0.352},{"c":"FR","x":0.462,"y":0.29},{"c":"FR","x":0.467,"y":0.292},{"c":"FR","x":0.447,"y":0.384},{"c":"FR","x":0.455,"y":0.38},{"c":"FR","x":0.453,"y":0.369},{"c":"FR","x":0.45,"y":0.292},{"c":"FR","x":0.434,"y":0.262},{"c":"FR","x":0.431,"y":0.247},{"c":"FR","x":0.439,"y":0.211},{"c":"FR","x":0.46,"y":0.198},{"c":"FR","x":0.466,"y":0.194},{"c":"FR","x":0.448,"y":0.19},{"c":"FR","x":0.46,"y":0.156},{"c":"FR","x":0.463,"y":0.136},{"c":"FR","x":0.464,"y":0.13},{"c":"FR","x":0.469,"y":0.151},{"c":"FR","x":0.472,"y":0.147},{"c":"FR","x":0.452,"y":0.079},{"c":"FR","x":0.458,"y":0.077},{"c":"FR","x":0.47,"y":0.064},{"c":"FR","x":0.471,"y":0.051},{"c":"FR","x":0.473,"y":0.053},{"c":"FR","x":0.47,"y":0.028},{"c":"FR","x":0.471,"y":0.017},{"c":"FR","x":0.472,"y":0.021},{"c":"FR","x":0.483,"y":0.017},{"c":"FR","x":0.5,"y":0.013},{"c":"FR","x":0.493,"y":0.196},{"c":"FR","x":0.483,"y":0.324},{"c":"FR","x":0.483,"y":0.136},{"c":"FR","x":0.49,"y":0.39},{"c":"FR","x":0.504,"y":0.422},{"c":"FR","x":0.497,"y":0.456},{"c":"FR","x":0.589,"y":0.333},{"c":"FR","x":0.59,"y":0.188},{"c":"FR","x":0.585,"y":0.22},{"c":"FR","x":0.603,"y":0.254},{"c":"FR","x":0.577,"y":0.296},{"c":"FR","x":0.579,"y":0.222},{"c":"FR","x":0.588,"y":0.092},{"c":"FR","x":0.585,"y":0.115},{"c":"FR","x":0.571,"y":0.134},{"c":"FR","x":0.616,"y":0.478},{"c":"FR","x":0.624,"y":0.493},{"c":"FR","x":0.605,"y":0.262},{"c":"FR","x":0.616,"y":0.222},{"c":"FR","x":0.609,"y":0.313},
{"c":"FR","x":0.465,"y":0},{"c":"FR","x":0.47,"y":0},{"c":"FR","x":0.48,"y":0},{"c":"FR","x":0.49,"y":0},{"c":"FR","x":0.5,"y":0},{"c":"FR","x":0.51,"y":0},{"c":"FR","x":0.53,"y":0},{"c":"FR","x":0.56,"y":0},
{"c":"DE","x":0.467,"y":0.819},{"c":"DE","x":0.552,"y":0.759},{"c":"DE","x":0.552,"y":0.731},{"c":"DE","x":0.569,"y":0.746},{"c":"DE","x":0.571,"y":0.719},{"c":"DE","x":0.573,"y":0.719},{"c":"DE","x":0.559,"y":0.699},{"c":"DE","x":0.557,"y":0.67},{"c":"DE","x":0.584,"y":0.672},{"c":"DE","x":0.583,"y":0.678},{"c":"DE","x":0.581,"y":0.642},{"c":"DE","x":0.599,"y":0.606},{"c":"DE","x":0.574,"y":0.591},{"c":"DE","x":0.59,"y":0.582},{"c":"DE","x":0.559,"y":0.546},{"c":"DE","x":0.585,"y":0.546},{"c":"DE","x":0.592,"y":0.546},{"c":"DE","x":0.579,"y":0.531},{"c":"DE","x":0.59,"y":0.578},{"c":"DE","x":0.579,"y":0.505},{"c":"DE","x":0.495,"y":0.55},{"c":"DE","x":0.464,"y":0.465},{"c":"DE","x":0.442,"y":0.307},{"c":"DE","x":0.434,"y":0.292},{"c":"DE","x":0.459,"y":0.286},{"c":"DE","x":0.464,"y":0.284},{"c":"DE","x":0.452,"y":0.36},{"c":"DE","x":0.456,"y":0.239},{"c":"DE","x":0.446,"y":0.134},{"c":"DE","x":0.464,"y":0.175},{"c":"DE","x":0.481,"y":0.145},{"c":"DE","x":0.483,"y":0.147},{"c":"DE","x":0.485,"y":0.034},{"c":"DE","x":0.484,"y":0.013},{"c":"DE","x":0.466,"y":0.006},
{"c":"DE","x":0.553,"y":0.45},{"c":"DE","x":0.551,"y":0.424},{"c":"DE","x":0.552,"y":0.35},{"c":"DE","x":0.549,"y":0.333},{"c":"DE","x":0.548,"y":0.311},{"c":"DE","x":0.555,"y":0.237},{"c":"DE","x":0.556,"y":0.235},{"c":"DE","x":0.549,"y":0.217},{"c":"DE","x":0.557,"y":0.211},{"c":"DE","x":0.56,"y":0.226},{"c":"DE","x":0.562,"y":0.211},{"c":"DE","x":0.547,"y":0.186},{"c":"DE","x":0.548,"y":0.168},{"c":"DE","x":0.565,"y":0.19},{"c":"DE","x":0.563,"y":0.175},{"c":"DE","x":0.568,"y":0.171},{"c":"DE","x":0.574,"y":0.177},{"c":"DE","x":0.579,"y":0.175},{"c":"DE","x":0.567,"y":0.162},{"c":"DE","x":0.57,"y":0.156},{"c":"DE","x":0.573,"y":0.128},{"c":"DE","x":0.576,"y":0.134},{"c":"DE","x":0.58,"y":0.122},{"c":"DE","x":0.583,"y":0.119},{"c":"DE","x":0.585,"y":0.126},{"c":"DE","x":0.59,"y":0.13},{"c":"DE","x":0.593,"y":0.115},{"c":"DE","x":0.595,"y":0.115},{"c":"DE","x":0.595,"y":0.141},{"c":"DE","x":0.588,"y":0.147},{"c":"DE","x":0.581,"y":0.156},{"c":"DE","x":0.562,"y":0.339},{"c":"DE","x":0.568,"y":0.356},{"c":"DE","x":0.567,"y":0.388},{"c":"DE","x":0.576,"y":0.39},{"c":"DE","x":0.583,"y":0.392},{"c":"DE","x":0.589,"y":0.382},{"c":"DE","x":0.583,"y":0.339},{"c":"DE","x":0.573,"y":0.269},{"c":"DE","x":0.571,"y":0.258},{"c":"DE","x":0.578,"y":0.254},{"c":"DE","x":0.576,"y":0.222},{"c":"DE","x":0.581,"y":0.217},{"c":"DE","x":0.585,"y":0.224},{"c":"DE","x":0.588,"y":0.213},{"c":"DE","x":0.59,"y":0.209},{"c":"DE","x":0.592,"y":0.222},{"c":"DE","x":0.594,"y":0.232},{"c":"DE","x":0.59,"y":0.286},{"c":"DE","x":0.59,"y":0.277},{"c":"DE","x":0.595,"y":0.29},{"c":"DE","x":0.6,"y":0.286},{"c":"DE","x":0.583,"y":0.301},{"c":"DE","x":0.584,"y":0.296},{"c":"DE","x":0.575,"y":0.207},{"c":"DE","x":0.577,"y":0.198},{"c":"DE","x":0.565,"y":0.145},{"c":"DE","x":0.552,"y":0.092},{"c":"DE","x":0.554,"y":0.1},{"c":"DE","x":0.571,"y":0.102},{"c":"DE","x":0.573,"y":0.094},{"c":"DE","x":0.575,"y":0.092},{"c":"DE","x":0.579,"y":0.094},{"c":"DE","x":0.584,"y":0.092},{"c":"DE","x":0.59,"y":0.087},{"c":"DE","x":0.594,"y":0.077},{"c":"DE","x":0.6,"y":0.083},{"c":"DE","x":0.543,"y":0.07},{"c":"DE","x":0.547,"y":0.07},{"c":"DE","x":0.552,"y":0.038},{"c":"DE","x":0.556,"y":0.04},{"c":"DE","x":0.566,"y":0.038},{"c":"DE","x":0.567,"y":0.013},{"c":"DE","x":0.573,"y":0.032},{"c":"DE","x":0.577,"y":0.021},{"c":"DE","x":0.583,"y":0.015},{"c":"DE","x":0.587,"y":0.013},{"c":"DE","x":0.597,"y":0.021},{"c":"DE","x":0.602,"y":0.015},{"c":"DE","x":0.542,"y":0.019},{"c":"DE","x":0.507,"y":0.092},{"c":"DE","x":0.509,"y":0.083},{"c":"DE","x":0.528,"y":0.192},{"c":"DE","x":0.635,"y":0.109},{"c":"DE","x":0.634,"y":0.07},{"c":"DE","x":0.629,"y":0.045},{"c":"DE","x":0.613,"y":0.092},{"c":"DE","x":0.61,"y":0.092},{"c":"DE","x":0.609,"y":0.578},
{"c":"DE","x":0.5,"y":0},{"c":"DE","x":0.52,"y":0},{"c":"DE","x":0.535,"y":0},{"c":"DE","x":0.545,"y":0},{"c":"DE","x":0.55,"y":0},{"c":"DE","x":0.555,"y":0},{"c":"DE","x":0.56,"y":0},{"c":"DE","x":0.565,"y":0},{"c":"DE","x":0.57,"y":0},{"c":"DE","x":0.575,"y":0},{"c":"DE","x":0.58,"y":0},{"c":"DE","x":0.585,"y":0},{"c":"DE","x":0.59,"y":0},{"c":"DE","x":0.595,"y":0},{"c":"DE","x":0.6,"y":0},
{"c":"SE","x":0.54,"y":1},{"c":"SE","x":0.572,"y":1},{"c":"SE","x":0.572,"y":0.985},{"c":"SE","x":0.581,"y":0.985},{"c":"SE","x":0.585,"y":1},{"c":"SE","x":0.588,"y":1},{"c":"SE","x":0.604,"y":1},{"c":"SE","x":0.605,"y":1},{"c":"SE","x":0.613,"y":1},{"c":"SE","x":0.615,"y":1},{"c":"SE","x":0.616,"y":1},{"c":"SE","x":0.62,"y":1},{"c":"SE","x":0.623,"y":1},{"c":"SE","x":0.626,"y":1},{"c":"SE","x":0.628,"y":1},{"c":"SE","x":0.636,"y":1},{"c":"SE","x":0.637,"y":1},{"c":"SE","x":0.64,"y":1},{"c":"SE","x":0.647,"y":1},{"c":"SE","x":0.649,"y":1},{"c":"SE","x":0.654,"y":1},{"c":"SE","x":0.668,"y":1},{"c":"SE","x":0.669,"y":1},{"c":"SE","x":0.648,"y":0.991},
{"c":"SE","x":0.575,"y":0.977},{"c":"SE","x":0.565,"y":0.936},{"c":"SE","x":0.599,"y":0.955},{"c":"SE","x":0.594,"y":0.885},{"c":"SE","x":0.6,"y":0.855},{"c":"SE","x":0.541,"y":0.759},{"c":"SE","x":0.596,"y":0.708},{"c":"SE","x":0.604,"y":0.699},{"c":"SE","x":0.602,"y":0.678},{"c":"SE","x":0.587,"y":0.627},{"c":"SE","x":0.592,"y":0.631},{"c":"SE","x":0.51,"y":0.595},{"c":"SE","x":0.513,"y":0.599},{"c":"SE","x":0.545,"y":0.595},{"c":"SE","x":0.5,"y":0.576},{"c":"SE","x":0.462,"y":0.505},{"c":"SE","x":0.476,"y":0.505},{"c":"SE","x":0.579,"y":0.503},{"c":"SE","x":0.585,"y":0.501},{"c":"SE","x":0.604,"y":0.578},
{"c":"SE","x":0.645,"y":0.947},{"c":"SE","x":0.64,"y":0.889},{"c":"SE","x":0.638,"y":0.874},{"c":"SE","x":0.623,"y":0.872},{"c":"SE","x":0.615,"y":0.874},{"c":"SE","x":0.617,"y":0.846},{"c":"SE","x":0.645,"y":0.849},{"c":"SE","x":0.611,"y":0.817},{"c":"SE","x":0.642,"y":0.812},{"c":"SE","x":0.651,"y":0.806},{"c":"SE","x":0.642,"y":0.793},{"c":"SE","x":0.634,"y":0.797},{"c":"SE","x":0.659,"y":0.744},{"c":"SE","x":0.664,"y":0.731},{"c":"SE","x":0.674,"y":0.751},{"c":"SE","x":0.641,"y":0.733},{"c":"SE","x":0.624,"y":0.74},{"c":"SE","x":0.61,"y":0.71},{"c":"SE","x":0.616,"y":0.719},{"c":"SE","x":0.623,"y":0.706},{"c":"SE","x":0.625,"y":0.695},{"c":"SE","x":0.635,"y":0.714},{"c":"SE","x":0.611,"y":0.67},{"c":"SE","x":0.618,"y":0.682},{"c":"SE","x":0.625,"y":0.68},{"c":"SE","x":0.628,"y":0.665},{"c":"SE","x":0.63,"y":0.667},{"c":"SE","x":0.644,"y":0.665},{"c":"SE","x":0.645,"y":0.659},{"c":"SE","x":0.634,"y":0.657},{"c":"SE","x":0.633,"y":0.65},{"c":"SE","x":0.678,"y":0.695},{"c":"SE","x":0.668,"y":0.65},{"c":"SE","x":0.666,"y":0.631},{"c":"SE","x":0.669,"y":0.633},{"c":"SE","x":0.682,"y":0.614},{"c":"SE","x":0.672,"y":0.608},{"c":"SE","x":0.607,"y":0.633},{"c":"SE","x":0.621,"y":0.642},{"c":"SE","x":0.635,"y":0.625},{"c":"SE","x":0.636,"y":0.635},{"c":"SE","x":0.631,"y":0.608},{"c":"SE","x":0.621,"y":0.595},{"c":"SE","x":0.64,"y":0.588},{"c":"SE","x":0.648,"y":0.586},{"c":"SE","x":0.654,"y":0.586},{"c":"SE","x":0.639,"y":0.571},{"c":"SE","x":0.639,"y":0.552},{"c":"SE","x":0.627,"y":0.574},{"c":"SE","x":0.615,"y":0.561},{"c":"SE","x":0.611,"y":0.565},{"c":"SE","x":0.609,"y":0.567},{"c":"SE","x":0.605,"y":0.578},{"c":"SE","x":0.62,"y":0.563},{"c":"SE","x":0.65,"y":0.546},{"c":"SE","x":0.659,"y":0.533},{"c":"SE","x":0.666,"y":0.518},{"c":"SE","x":0.684,"y":0.529},{"c":"SE","x":0.68,"y":0.507},{"c":"SE","x":0.645,"y":0.525},{"c":"SE","x":0.646,"y":0.512},{"c":"SE","x":0.64,"y":0.522},{"c":"SE","x":0.639,"y":0.512},{"c":"SE","x":0.635,"y":0.518},{"c":"SE","x":0.637,"y":0.525},{"c":"SE","x":0.641,"y":0.501},
{"c":"SE","x":0.619,"y":0.495},{"c":"SE","x":0.621,"y":0.478},{"c":"SE","x":0.607,"y":0.473},{"c":"SE","x":0.631,"y":0.486},{"c":"SE","x":0.634,"y":0.48},{"c":"SE","x":0.637,"y":0.473},{"c":"SE","x":0.639,"y":0.475},{"c":"SE","x":0.645,"y":0.475},{"c":"SE","x":0.64,"y":0.499},{"c":"SE","x":0.618,"y":0.454},{"c":"SE","x":0.616,"y":0.446},{"c":"SE","x":0.622,"y":0.452},{"c":"SE","x":0.632,"y":0.452},{"c":"SE","x":0.614,"y":0.435},{"c":"SE","x":0.626,"y":0.431},{"c":"SE","x":0.622,"y":0.414},{"c":"SE","x":0.623,"y":0.418},{"c":"SE","x":0.625,"y":0.414},{"c":"SE","x":0.628,"y":0.42},{"c":"SE","x":0.651,"y":0.441},{"c":"SE","x":0.661,"y":0.441},{"c":"SE","x":0.663,"y":0.429},{"c":"SE","x":0.658,"y":0.412},{"c":"SE","x":0.656,"y":0.409},{"c":"SE","x":0.648,"y":0.407},{"c":"SE","x":0.639,"y":0.435},{"c":"SE","x":0.646,"y":0.45},{"c":"SE","x":0.628,"y":0.397},{"c":"SE","x":0.63,"y":0.399},{"c":"SE","x":0.632,"y":0.39},{"c":"SE","x":0.628,"y":0.382},{"c":"SE","x":0.626,"y":0.38},{"c":"SE","x":0.632,"y":0.38},{"c":"SE","x":0.644,"y":0.392},{"c":"SE","x":0.654,"y":0.39},{"c":"SE","x":0.645,"y":0.352},{"c":"SE","x":0.647,"y":0.35},{"c":"SE","x":0.655,"y":0.345},{"c":"SE","x":0.66,"y":0.352},{"c":"SE","x":0.658,"y":0.313},{"c":"SE","x":0.659,"y":0.292},{"c":"SE","x":0.621,"y":0.335},{"c":"SE","x":0.625,"y":0.328},{"c":"SE","x":0.623,"y":0.339},{"c":"SE","x":0.627,"y":0.339},{"c":"SE","x":0.632,"y":0.335},{"c":"SE","x":0.621,"y":0.328},{"c":"SE","x":0.628,"y":0.322},{"c":"SE","x":0.643,"y":0.333},{"c":"SE","x":0.632,"y":0.305},{"c":"SE","x":0.634,"y":0.307},{"c":"SE","x":0.643,"y":0.305},{"c":"SE","x":0.639,"y":0.32},{"c":"SE","x":0.644,"y":0.307},{"c":"SE","x":0.684,"y":0.33},{"c":"SE","x":0.684,"y":0.296},{"c":"SE","x":0.69,"y":0.414},{"c":"SE","x":0.696,"y":0.437},{"c":"SE","x":0.681,"y":0.437},{"c":"SE","x":0.683,"y":0.429},{"c":"SE","x":0.611,"y":0.277},{"c":"SE","x":0.613,"y":0.275},{"c":"SE","x":0.65,"y":0.264},{"c":"SE","x":0.657,"y":0.245},{"c":"SE","x":0.632,"y":0.243},{"c":"SE","x":0.63,"y":0.243},{"c":"SE","x":0.63,"y":0.235},{"c":"SE","x":0.629,"y":0.226},{"c":"SE","x":0.642,"y":0.232},{"c":"SE","x":0.644,"y":0.228},{"c":"SE","x":0.647,"y":0.211},{"c":"SE","x":0.627,"y":0.211},{"c":"SE","x":0.631,"y":0.224},{"c":"SE","x":0.666,"y":0.209},{"c":"SE","x":0.667,"y":0.188},{"c":"SE","x":0.628,"y":0.194},{"c":"SE","x":0.631,"y":0.194},{"c":"SE","x":0.623,"y":0.188},{"c":"SE","x":0.629,"y":0.179},{"c":"SE","x":0.652,"y":0.156},{"c":"SE","x":0.647,"y":0.16},{"c":"SE","x":0.607,"y":0.179},{"c":"SE","x":0.609,"y":0.134},{"c":"SE","x":0.611,"y":0.126},{"c":"SE","x":0.618,"y":0.141},{"c":"SE","x":0.626,"y":0.139},{"c":"SE","x":0.628,"y":0.136},{"c":"SE","x":0.614,"y":0.109},{"c":"SE","x":0.619,"y":0.111},{"c":"SE","x":0.622,"y":0.107},{"c":"SE","x":0.63,"y":0.115},{"c":"SE","x":0.636,"y":0.111},{"c":"SE","x":0.613,"y":0.079},{"c":"SE","x":0.644,"y":0.139},{"c":"SE","x":0.645,"y":0.119},{"c":"SE","x":0.642,"y":0.1},{"c":"SE","x":0.644,"y":0.075},{"c":"SE","x":0.618,"y":0.07},{"c":"SE","x":0.628,"y":0.079},{"c":"SE","x":0.628,"y":0.058},{"c":"SE","x":0.619,"y":0.038},{"c":"SE","x":0.621,"y":0.036},{"c":"SE","x":0.632,"y":0.028},{"c":"SE","x":0.638,"y":0.036},{"c":"SE","x":0.656,"y":0.043},{"c":"SE","x":0.662,"y":0.051},{"c":"SE","x":0.657,"y":0.013},{"c":"SE","x":0.647,"y":0.013},{"c":"SE","x":0.632,"y":0.009},{"c":"SE","x":0.616,"y":0.017},
{"c":"SE","x":0.509,"y":0.488},{"c":"SE","x":0.506,"y":0.478},{"c":"SE","x":0.504,"y":0.475},{"c":"SE","x":0.494,"y":0.433},{"c":"SE","x":0.497,"y":0.422},{"c":"SE","x":0.509,"y":0.433},{"c":"SE","x":0.525,"y":0.437},{"c":"SE","x":0.528,"y":0.405},{"c":"SE","x":0.476,"y":0.412},{"c":"SE","x":0.507,"y":0.39},{"c":"SE","x":0.509,"y":0.371},{"c":"SE","x":0.512,"y":0.38},{"c":"SE","x":0.512,"y":0.328},{"c":"SE","x":0.516,"y":0.318},{"c":"SE","x":0.516,"y":0.32},{"c":"SE","x":0.515,"y":0.313},{"c":"SE","x":0.497,"y":0.309},{"c":"SE","x":0.5,"y":0.29},{"c":"SE","x":0.522,"y":0.271},{"c":"SE","x":0.523,"y":0.207},{"c":"SE","x":0.523,"y":0.196},{"c":"SE","x":0.498,"y":0.23},{"c":"SE","x":0.509,"y":0.237},{"c":"SE","x":0.512,"y":0.22},{"c":"SE","x":0.516,"y":0.224},{"c":"SE","x":0.481,"y":0.186},{"c":"SE","x":0.484,"y":0.183},{"c":"SE","x":0.497,"y":0.164},{"c":"SE","x":0.497,"y":0.151},{"c":"SE","x":0.504,"y":0.154},{"c":"SE","x":0.549,"y":0.373},{"c":"SE","x":0.549,"y":0.341},{"c":"SE","x":0.557,"y":0.399},{"c":"SE","x":0.548,"y":0.337},{"c":"SE","x":0.576,"y":0.335},{"c":"SE","x":0.582,"y":0.358},{"c":"SE","x":0.583,"y":0.358},{"c":"SE","x":0.595,"y":0.388},{"c":"SE","x":0.599,"y":0.358},{"c":"SE","x":0.599,"y":0.448},{"c":"SE","x":0.597,"y":0.452},{"c":"SE","x":0.602,"y":0.435},{"c":"SE","x":0.601,"y":0.441},{"c":"SE","x":0.6,"y":0.467},{"c":"SE","x":0.603,"y":0.475},{"c":"SE","x":0.57,"y":0.426},{"c":"SE","x":0.574,"y":0.433},{"c":"SE","x":0.579,"y":0.499},{"c":"SE","x":0.564,"y":0.488},{"c":"SE","x":0.566,"y":0.484},{"c":"SE","x":0.586,"y":0.092},{"c":"SE","x":0.592,"y":0.096},{"c":"SE","x":0.601,"y":0.072},{"c":"SE","x":0.6,"y":0.058},{"c":"SE","x":0.602,"y":0.179},{"c":"SE","x":0.601,"y":0.171},{"c":"SE","x":0.514,"y":0.1},{"c":"SE","x":0.508,"y":0.083},{"c":"SE","x":0.509,"y":0.036},{"c":"SE","x":0.518,"y":0.098},{"c":"SE","x":0.519,"y":0.077},{"c":"SE","x":0.519,"y":0.017},{"c":"SE","x":0.52,"y":0.011},{"c":"SE","x":0.526,"y":0.032},{"c":"SE","x":0.531,"y":0.028},{"c":"SE","x":0.536,"y":0.019},{"c":"SE","x":0.54,"y":0.009},{"c":"SE","x":0.56,"y":0.032},{"c":"SE","x":0.568,"y":0.017},{"c":"SE","x":0.575,"y":0.03},{"c":"SE","x":0.571,"y":0.064},{"c":"SE","x":0.514,"y":0.136},{"c":"SE","x":0.488,"y":0.038},{"c":"SE","x":0.397,"y":0.132},{"c":"SE","x":0.379,"y":0.467},{"c":"SE","x":0.363,"y":0.062},{"c":"SE","x":0.381,"y":0.049},
{"c":"SE","x":0.49,"y":0},{"c":"SE","x":0.495,"y":0},{"c":"SE","x":0.5,"y":0},{"c":"SE","x":0.505,"y":0},{"c":"SE","x":0.51,"y":0},{"c":"SE","x":0.515,"y":0},{"c":"SE","x":0.52,"y":0},{"c":"SE","x":0.525,"y":0},{"c":"SE","x":0.53,"y":0},{"c":"SE","x":0.535,"y":0},{"c":"SE","x":0.54,"y":0},{"c":"SE","x":0.545,"y":0},{"c":"SE","x":0.55,"y":0},{"c":"SE","x":0.556,"y":0},{"c":"SE","x":0.562,"y":0},{"c":"SE","x":0.568,"y":0},{"c":"SE","x":0.574,"y":0},{"c":"SE","x":0.58,"y":0},{"c":"SE","x":0.585,"y":0},{"c":"SE","x":0.59,"y":0},{"c":"SE","x":0.595,"y":0},{"c":"SE","x":0.6,"y":0},{"c":"SE","x":0.604,"y":0},{"c":"SE","x":0.606,"y":0},{"c":"SE","x":0.608,"y":0},{"c":"SE","x":0.61,"y":0},{"c":"SE","x":0.612,"y":0},{"c":"SE","x":0.614,"y":0},{"c":"SE","x":0.616,"y":0},{"c":"SE","x":0.618,"y":0},{"c":"SE","x":0.62,"y":0},{"c":"SE","x":0.622,"y":0},{"c":"SE","x":0.624,"y":0},{"c":"SE","x":0.626,"y":0},{"c":"SE","x":0.628,"y":0},{"c":"SE","x":0.63,"y":0},{"c":"SE","x":0.632,"y":0},{"c":"SE","x":0.634,"y":0},{"c":"SE","x":0.636,"y":0},{"c":"SE","x":0.638,"y":0},{"c":"SE","x":0.64,"y":0},{"c":"SE","x":0.642,"y":0},{"c":"SE","x":0.644,"y":0},{"c":"SE","x":0.646,"y":0},{"c":"SE","x":0.648,"y":0},{"c":"SE","x":0.65,"y":0},{"c":"SE","x":0.652,"y":0},{"c":"SE","x":0.654,"y":0},{"c":"SE","x":0.656,"y":0},{"c":"SE","x":0.658,"y":0},{"c":"SE","x":0.66,"y":0},{"c":"SE","x":0.662,"y":0},{"c":"SE","x":0.664,"y":0},{"c":"SE","x":0.666,"y":0},{"c":"SE","x":0.668,"y":0},{"c":"SE","x":0.67,"y":0},{"c":"SE","x":0.675,"y":0},{"c":"SE","x":0.68,"y":0},{"c":"SE","x":0.686,"y":0},{"c":"SE","x":0.692,"y":0},{"c":"SE","x":0.698,"y":0},{"c":"SE","x":0.704,"y":0},
{"c":"UK","x":0.483,"y":1},{"c":"UK","x":0.554,"y":1},{"c":"UK","x":0.556,"y":1},{"c":"UK","x":0.493,"y":0.979},{"c":"UK","x":0.542,"y":0.968},{"c":"UK","x":0.594,"y":0.968},{"c":"UK","x":0.583,"y":0.836},{"c":"UK","x":0.599,"y":0.814},{"c":"UK","x":0.606,"y":0.908},{"c":"UK","x":0.477,"y":0.913},{"c":"UK","x":0.474,"y":0.898},{"c":"UK","x":0.485,"y":0.853},{"c":"UK","x":0.47,"y":0.825},{"c":"UK","x":0.426,"y":0.821},{"c":"UK","x":0.53,"y":0.806},{"c":"UK","x":0.532,"y":0.802},{"c":"UK","x":0.575,"y":0.797},{"c":"UK","x":0.581,"y":0.793},{"c":"UK","x":0.478,"y":0.791},{"c":"UK","x":0.489,"y":0.789},{"c":"UK","x":0.483,"y":0.77},{"c":"UK","x":0.487,"y":0.774},{"c":"UK","x":0.478,"y":0.757},{"c":"UK","x":0.462,"y":0.757},{"c":"UK","x":0.44,"y":0.751},{"c":"UK","x":0.454,"y":0.74},{"c":"UK","x":0.453,"y":0.725},{"c":"UK","x":0.453,"y":0.714},{"c":"UK","x":0.469,"y":0.721},{"c":"UK","x":0.482,"y":0.714},{"c":"UK","x":0.485,"y":0.706},{"c":"UK","x":0.472,"y":0.699},{"c":"UK","x":0.458,"y":0.697},{"c":"UK","x":0.452,"y":0.697},{"c":"UK","x":0.449,"y":0.68},{"c":"UK","x":0.436,"y":0.706},{"c":"UK","x":0.414,"y":0.712},{"c":"UK","x":0.424,"y":0.697},{"c":"UK","x":0.424,"y":0.678},{"c":"UK","x":0.486,"y":0.687},{"c":"UK","x":0.487,"y":0.67},{"c":"UK","x":0.489,"y":0.665},{"c":"UK","x":0.498,"y":0.693},{"c":"UK","x":0.501,"y":0.674},{"c":"UK","x":0.526,"y":0.704},{"c":"UK","x":0.533,"y":0.691},{"c":"UK","x":0.453,"y":0.646},{"c":"UK","x":0.481,"y":0.642},{"c":"UK","x":0.481,"y":0.618},{"c":"UK","x":0.476,"y":0.614},{"c":"UK","x":0.517,"y":0.635},{"c":"UK","x":0.54,"y":0.64},{"c":"UK","x":0.545,"y":0.646},{"c":"UK","x":0.554,"y":0.652},{"c":"UK","x":0.56,"y":0.648},{"c":"UK","x":0.569,"y":0.642},{"c":"UK","x":0.57,"y":0.631},{"c":"UK","x":0.576,"y":0.657},{"c":"UK","x":0.581,"y":0.663},{"c":"UK","x":0.589,"y":0.689},{"c":"UK","x":0.57,"y":0.706},{"c":"UK","x":0.429,"y":0.601},{"c":"UK","x":0.423,"y":0.595},{"c":"UK","x":0.461,"y":0.584},{"c":"UK","x":0.464,"y":0.584},{"c":"UK","x":0.469,"y":0.571},{"c":"UK","x":0.478,"y":0.576},{"c":"UK","x":0.478,"y":0.567},{"c":"UK","x":0.46,"y":0.567},{"c":"UK","x":0.45,"y":0.565},{"c":"UK","x":0.453,"y":0.533},{"c":"UK","x":0.461,"y":0.542},{"c":"UK","x":0.473,"y":0.533},{"c":"UK","x":0.473,"y":0.527},{"c":"UK","x":0.443,"y":0.518},{"c":"UK","x":0.415,"y":0.503},{"c":"UK","x":0.492,"y":0.561},{"c":"UK","x":0.497,"y":0.586},{"c":"UK","x":0.497,"y":0.518},{"c":"UK","x":0.506,"y":0.499},{"c":"UK","x":0.48,"y":0.546},{"c":"UK","x":0.552,"y":0.574},{"c":"UK","x":0.558,"y":0.576},{"c":"UK","x":0.571,"y":0.554},{"c":"UK","x":0.59,"y":0.58},{"c":"UK","x":0.602,"y":0.582},{"c":"UK","x":0.597,"y":0.558},{"c":"UK","x":0.589,"y":0.505},{"c":"UK","x":0.545,"y":0.525},
{"c":"UK","x":0.416,"y":0.493},{"c":"UK","x":0.419,"y":0.482},{"c":"UK","x":0.424,"y":0.495},{"c":"UK","x":0.434,"y":0.465},{"c":"UK","x":0.44,"y":0.418},{"c":"UK","x":0.452,"y":0.414},{"c":"UK","x":0.428,"y":0.405},{"c":"UK","x":0.431,"y":0.403},{"c":"UK","x":0.441,"y":0.401},{"c":"UK","x":0.461,"y":0.405},{"c":"UK","x":0.465,"y":0.435},{"c":"UK","x":0.462,"y":0.435},{"c":"UK","x":0.465,"y":0.424},{"c":"UK","x":0.478,"y":0.467},{"c":"UK","x":0.49,"y":0.467},{"c":"UK","x":0.448,"y":0.39},{"c":"UK","x":0.455,"y":0.369},{"c":"UK","x":0.448,"y":0.369},{"c":"UK","x":0.453,"y":0.356},{"c":"UK","x":0.461,"y":0.352},{"c":"UK","x":0.441,"y":0.36},{"c":"UK","x":0.427,"y":0.352},{"c":"UK","x":0.431,"y":0.343},{"c":"UK","x":0.432,"y":0.326},{"c":"UK","x":0.423,"y":0.324},{"c":"UK","x":0.448,"y":0.318},{"c":"UK","x":0.453,"y":0.309},{"c":"UK","x":0.459,"y":0.32},{"c":"UK","x":0.469,"y":0.309},{"c":"UK","x":0.467,"y":0.313},{"c":"UK","x":0.471,"y":0.322},{"c":"UK","x":0.47,"y":0.318},{"c":"UK","x":0.468,"y":0.296},{"c":"UK","x":0.476,"y":0.279},{"c":"UK","x":0.475,"y":0.273},{"c":"UK","x":0.486,"y":0.292},{"c":"UK","x":0.48,"y":0.339},{"c":"UK","x":0.483,"y":0.369},{"c":"UK","x":0.481,"y":0.328},{"c":"UK","x":0.46,"y":0.29},{"c":"UK","x":0.473,"y":0.269},{"c":"UK","x":0.455,"y":0.284},{"c":"UK","x":0.457,"y":0.277},{"c":"UK","x":0.45,"y":0.262},{"c":"UK","x":0.452,"y":0.254},{"c":"UK","x":0.447,"y":0.254},{"c":"UK","x":0.446,"y":0.245},{"c":"UK","x":0.437,"y":0.271},{"c":"UK","x":0.436,"y":0.258},{"c":"UK","x":0.449,"y":0.22},{"c":"UK","x":0.446,"y":0.213},{"c":"UK","x":0.448,"y":0.209},{"c":"UK","x":0.465,"y":0.222},{"c":"UK","x":0.466,"y":0.215},{"c":"UK","x":0.42,"y":0.156},{"c":"UK","x":0.478,"y":0.154},{"c":"UK","x":0.485,"y":0.075},{"c":"UK","x":0.474,"y":0.034},{"c":"UK","x":0.448,"y":0.028},{"c":"UK","x":0.445,"y":0.019},{"c":"UK","x":0.44,"y":0.072},{"c":"UK","x":0.429,"y":0.124},{"c":"UK","x":0.427,"y":0.094},{"c":"UK","x":0.443,"y":0.13},{"c":"UK","x":0.543,"y":0.401},{"c":"UK","x":0.535,"y":0.335},{"c":"UK","x":0.538,"y":0.412},{"c":"UK","x":0.542,"y":0.247},{"c":"UK","x":0.545,"y":0.111},{"c":"UK","x":0.546,"y":0.07},{"c":"UK","x":0.555,"y":0.181},{"c":"UK","x":0.561,"y":0.173},{"c":"UK","x":0.573,"y":0.433},{"c":"UK","x":0.571,"y":0.422},{"c":"UK","x":0.575,"y":0.414},{"c":"UK","x":0.573,"y":0.335},{"c":"UK","x":0.578,"y":0.32},{"c":"UK","x":0.581,"y":0.305},{"c":"UK","x":0.573,"y":0.296},{"c":"UK","x":0.574,"y":0.284},{"c":"UK","x":0.57,"y":0.254},{"c":"UK","x":0.592,"y":0.273},{"c":"UK","x":0.595,"y":0.281},{"c":"UK","x":0.588,"y":0.433},{"c":"UK","x":0.597,"y":0.388},{"c":"UK","x":0.59,"y":0.254},{"c":"UK","x":0.597,"y":0.22},{"c":"UK","x":0.6,"y":0.264},{"c":"UK","x":0.602,"y":0.186},{"c":"UK","x":0.597,"y":0.162},{"c":"UK","x":0.594,"y":0.104},{"c":"UK","x":0.6,"y":0.098},{"c":"UK","x":0.597,"y":0.04},{"c":"UK","x":0.594,"y":0.038},{"c":"UK","x":0.583,"y":0.058},{"c":"UK","x":0.573,"y":0.053},{"c":"UK","x":0.564,"y":0.064},{"c":"UK","x":0.554,"y":0.053},{"c":"UK","x":0.547,"y":0.079},{"c":"UK","x":0.535,"y":0.004},{"c":"UK","x":0.541,"y":0.081},{"c":"UK","x":0.484,"y":0.009},{"c":"UK","x":0.469,"y":0.006},{"c":"UK","x":0.397,"y":0.036},{"c":"UK","x":0.312,"y":0.441},{"c":"UK","x":0.32,"y":0.198},{"c":"UK","x":0.307,"y":0.111},{"c":"UK","x":0.329,"y":0.009},{"c":"UK","x":0.371,"y":0.36},{"c":"UK","x":0.381,"y":0.341},{"c":"UK","x":0.394,"y":0.19},{"c":"UK","x":0.389,"y":0.192},{"c":"UK","x":0.362,"y":0.145},{"c":"UK","x":0.61,"y":0.12},{"c":"UK","x":0.613,"y":0.43},
{"c":"UK","x":0.44,"y":0},{"c":"UK","x":0.444,"y":0},{"c":"UK","x":0.448,"y":0},{"c":"UK","x":0.452,"y":0},{"c":"UK","x":0.456,"y":0},{"c":"UK","x":0.46,"y":0},{"c":"UK","x":0.464,"y":0},{"c":"UK","x":0.468,"y":0},{"c":"UK","x":0.472,"y":0},{"c":"UK","x":0.476,"y":0},{"c":"UK","x":0.48,"y":0},{"c":"UK","x":0.484,"y":0},{"c":"UK","x":0.488,"y":0},{"c":"UK","x":0.492,"y":0},{"c":"UK","x":0.496,"y":0},{"c":"UK","x":0.5,"y":0},{"c":"UK","x":0.504,"y":0},{"c":"UK","x":0.508,"y":0},{"c":"UK","x":0.512,"y":0},{"c":"UK","x":0.516,"y":0},{"c":"UK","x":0.52,"y":0},{"c":"UK","x":0.524,"y":0},{"c":"UK","x":0.528,"y":0},{"c":"UK","x":0.532,"y":0},{"c":"UK","x":0.536,"y":0},{"c":"UK","x":0.54,"y":0},{"c":"UK","x":0.544,"y":0},{"c":"UK","x":0.548,"y":0},{"c":"UK","x":0.552,"y":0},{"c":"UK","x":0.556,"y":0},{"c":"UK","x":0.56,"y":0},{"c":"UK","x":0.57,"y":0},{"c":"UK","x":0.58,"y":0},{"c":"UK","x":0.6,"y":0},{"c":"UK","x":0.61,"y":0},{"c":"UK","x":0.62,"y":0},
{"c":"US","x":0.303,"y":1},{"c":"US","x":0.341,"y":1},{"c":"US","x":0.385,"y":1},{"c":"US","x":0.389,"y":1},{"c":"US","x":0.437,"y":1},{"c":"US","x":0.44,"y":1},{"c":"US","x":0.373,"y":0.9},{"c":"US","x":0.384,"y":0.883},{"c":"US","x":0.331,"y":0.834},{"c":"US","x":0.384,"y":0.817},{"c":"US","x":0.363,"y":0.738},{"c":"US","x":0.361,"y":0.712},{"c":"US","x":0.391,"y":0.727},{"c":"US","x":0.384,"y":0.67},{"c":"US","x":0.388,"y":0.652},{"c":"US","x":0.345,"y":0.629},{"c":"US","x":0.37,"y":0.633},{"c":"US","x":0.379,"y":0.61},{"c":"US","x":0.34,"y":0.595},{"c":"US","x":0.31,"y":0.548},{"c":"US","x":0.345,"y":0.522},{"c":"US","x":0.354,"y":0.51},{"c":"US","x":0.377,"y":0.497},{"c":"US","x":0.392,"y":0.5},
{"c":"US","x":0.426,"y":0.949},{"c":"US","x":0.407,"y":0.938},{"c":"US","x":0.419,"y":0.938},{"c":"US","x":0.424,"y":0.927},{"c":"US","x":0.406,"y":0.889},{"c":"US","x":0.416,"y":0.88},{"c":"US","x":0.417,"y":0.876},{"c":"US","x":0.421,"y":0.872},{"c":"US","x":0.422,"y":0.872},{"c":"US","x":0.417,"y":0.844},{"c":"US","x":0.41,"y":0.82},{"c":"US","x":0.425,"y":0.804},{"c":"US","x":0.425,"y":0.768},{"c":"US","x":0.429,"y":0.744},{"c":"US","x":0.408,"y":0.731},{"c":"US","x":0.435,"y":0.727},{"c":"US","x":0.438,"y":0.708},{"c":"US","x":0.448,"y":0.695},{"c":"US","x":0.45,"y":0.689},{"c":"US","x":0.404,"y":0.676},{"c":"US","x":0.41,"y":0.672},{"c":"US","x":0.419,"y":0.672},{"c":"US","x":0.433,"y":0.678},{"c":"US","x":0.415,"y":0.655},{"c":"US","x":0.421,"y":0.65},{"c":"US","x":0.418,"y":0.631},{"c":"US","x":0.429,"y":0.618},{"c":"US","x":0.437,"y":0.614},{"c":"US","x":0.445,"y":0.623},{"c":"US","x":0.44,"y":0.599},{"c":"US","x":0.412,"y":0.584},{"c":"US","x":0.433,"y":0.582},{"c":"US","x":0.443,"y":0.58},{"c":"US","x":0.443,"y":0.557},{"c":"US","x":0.404,"y":0.546},{"c":"US","x":0.406,"y":0.544},{"c":"US","x":0.401,"y":0.522},{"c":"US","x":0.438,"y":0.531},{"c":"US","x":0.43,"y":0.512},{"c":"US","x":0.401,"y":0.5},{"c":"US","x":0.423,"y":0.497},
{"c":"US","x":0.303,"y":0.48},{"c":"US","x":0.31,"y":0.409},{"c":"US","x":0.311,"y":0.247},{"c":"US","x":0.29,"y":0.22},{"c":"US","x":0.312,"y":0.156},{"c":"US","x":0.322,"y":0.128},{"c":"US","x":0.325,"y":0.115},{"c":"US","x":0.328,"y":0.345},{"c":"US","x":0.327,"y":0.292},{"c":"US","x":0.336,"y":0.262},{"c":"US","x":0.336,"y":0.239},{"c":"US","x":0.336,"y":0.213},{"c":"US","x":0.339,"y":0.473},{"c":"US","x":0.35,"y":0.499},{"c":"US","x":0.353,"y":0.486},{"c":"US","x":0.348,"y":0.433},{"c":"US","x":0.35,"y":0.431},{"c":"US","x":0.351,"y":0.426},{"c":"US","x":0.354,"y":0.399},{"c":"US","x":0.357,"y":0.373},{"c":"US","x":0.358,"y":0.373},{"c":"US","x":0.354,"y":0.262},{"c":"US","x":0.355,"y":0.256},{"c":"US","x":0.357,"y":0.234},{"c":"US","x":0.353,"y":0.203},{"c":"US","x":0.357,"y":0.203},{"c":"US","x":0.359,"y":0.194},{"c":"US","x":0.358,"y":0.177},{"c":"US","x":0.364,"y":0.194},{"c":"US","x":0.365,"y":0.171},{"c":"US","x":0.364,"y":0.228},{"c":"US","x":0.365,"y":0.128},{"c":"US","x":0.368,"y":0.107},{"c":"US","x":0.365,"y":0.107},{"c":"US","x":0.362,"y":0.136},{"c":"US","x":0.367,"y":0.303},{"c":"US","x":0.371,"y":0.311},{"c":"US","x":0.367,"y":0.362},{"c":"US","x":0.377,"y":0.431},{"c":"US","x":0.377,"y":0.495},{"c":"US","x":0.389,"y":0.501},{"c":"US","x":0.39,"y":0.452},{"c":"US","x":0.38,"y":0.405},{"c":"US","x":0.381,"y":0.405},{"c":"US","x":0.388,"y":0.281},{"c":"US","x":0.388,"y":0.269},{"c":"US","x":0.391,"y":0.249},{"c":"US","x":0.387,"y":0.235},{"c":"US","x":0.381,"y":0.247},{"c":"US","x":0.377,"y":0.196},{"c":"US","x":0.379,"y":0.2},{"c":"US","x":0.388,"y":0.188},{"c":"US","x":0.384,"y":0.16},{"c":"US","x":0.385,"y":0.132},{"c":"US","x":0.387,"y":0.134},{"c":"US","x":0.395,"y":0.313},{"c":"US","x":0.392,"y":0.358},{"c":"US","x":0.397,"y":0.337},{"c":"US","x":0.388,"y":0.29},
{"c":"US","x":0.407,"y":0.488},{"c":"US","x":0.411,"y":0.46},{"c":"US","x":0.419,"y":0.465},{"c":"US","x":0.424,"y":0.497},{"c":"US","x":0.436,"y":0.452},{"c":"US","x":0.422,"y":0.426},{"c":"US","x":0.427,"y":0.465},{"c":"US","x":0.431,"y":0.384},{"c":"US","x":0.434,"y":0.375},{"c":"US","x":0.424,"y":0.358},{"c":"US","x":0.426,"y":0.337},{"c":"US","x":0.423,"y":0.343},{"c":"US","x":0.408,"y":0.345},{"c":"US","x":0.41,"y":0.352},{"c":"US","x":0.414,"y":0.35},{"c":"US","x":0.402,"y":0.318},{"c":"US","x":0.431,"y":0.324},{"c":"US","x":0.436,"y":0.318},{"c":"US","x":0.44,"y":0.335},{"c":"US","x":0.437,"y":0.324},{"c":"US","x":0.454,"y":0.311},{"c":"US","x":0.45,"y":0.29},{"c":"US","x":0.452,"y":0.281},{"c":"US","x":0.441,"y":0.275},{"c":"US","x":0.44,"y":0.256},{"c":"US","x":0.442,"y":0.254},{"c":"US","x":0.407,"y":0.271},{"c":"US","x":0.414,"y":0.26},{"c":"US","x":0.419,"y":0.262},{"c":"US","x":0.435,"y":0.247},{"c":"US","x":0.438,"y":0.241},{"c":"US","x":0.445,"y":0.241},{"c":"US","x":0.447,"y":0.237},{"c":"US","x":0.404,"y":0.228},{"c":"US","x":0.408,"y":0.232},{"c":"US","x":0.406,"y":0.213},{"c":"US","x":0.414,"y":0.211},{"c":"US","x":0.41,"y":0.213},{"c":"US","x":0.429,"y":0.217},{"c":"US","x":0.434,"y":0.222},{"c":"US","x":0.441,"y":0.222},{"c":"US","x":0.439,"y":0.205},{"c":"US","x":0.443,"y":0.209},{"c":"US","x":0.447,"y":0.207},{"c":"US","x":0.406,"y":0.196},{"c":"US","x":0.412,"y":0.196},{"c":"US","x":0.428,"y":0.173},{"c":"US","x":0.433,"y":0.171},{"c":"US","x":0.435,"y":0.175},{"c":"US","x":0.437,"y":0.156},{"c":"US","x":0.433,"y":0.156},{"c":"US","x":0.411,"y":0.156},{"c":"US","x":0.412,"y":0.156},{"c":"US","x":0.41,"y":0.136},{"c":"US","x":0.424,"y":0.139},{"c":"US","x":0.424,"y":0.136},{"c":"US","x":0.435,"y":0.134},{"c":"US","x":0.443,"y":0.132},{"c":"US","x":0.452,"y":0.136},{"c":"US","x":0.402,"y":0.126},{"c":"US","x":0.407,"y":0.12},{"c":"US","x":0.412,"y":0.117},{"c":"US","x":0.416,"y":0.111},{"c":"US","x":0.419,"y":0.106},{"c":"US","x":0.404,"y":0.1},{"c":"US","x":0.41,"y":0.098},
{"c":"US","x":0.352,"y":0.045},{"c":"US","x":0.356,"y":0.03},{"c":"US","x":0.358,"y":0.06},{"c":"US","x":0.361,"y":0.018},{"c":"US","x":0.363,"y":0.05},{"c":"US","x":0.366,"y":0.072},{"c":"US","x":0.368,"y":0.035},{"c":"US","x":0.37,"y":0.012},{"c":"US","x":0.372,"y":0.055},{"c":"US","x":0.374,"y":0.028},{"c":"US","x":0.375,"y":0.068},{"c":"US","x":0.377,"y":0.04},{"c":"US","x":0.378,"y":0.015},{"c":"US","x":0.38,"y":0.062},{"c":"US","x":0.381,"y":0.03},{"c":"US","x":0.383,"y":0.048},{"c":"US","x":0.384,"y":0.008},{"c":"US","x":0.385,"y":0.075},{"c":"US","x":0.386,"y":0.022},{"c":"US","x":0.387,"y":0.058},{"c":"US","x":0.388,"y":0.038},{"c":"US","x":0.389,"y":0.012},{"c":"US","x":0.39,"y":0.066},{"c":"US","x":0.391,"y":0.028},{"c":"US","x":0.392,"y":0.05},{"c":"US","x":0.393,"y":0.017},{"c":"US","x":0.394,"y":0.082},{"c":"US","x":0.395,"y":0.035},{"c":"US","x":0.396,"y":0.006},{"c":"US","x":0.397,"y":0.055},{"c":"US","x":0.398,"y":0.024},{"c":"US","x":0.369,"y":0.09},{"c":"US","x":0.376,"y":0.1},{"c":"US","x":0.382,"y":0.088},{"c":"US","x":0.39,"y":0.095},{"c":"US","x":0.395,"y":0.105},
{"c":"US","x":0.399,"y":0.07},{"c":"US","x":0.4,"y":0.04},{"c":"US","x":0.401,"y":0.015},{"c":"US","x":0.402,"y":0.088},{"c":"US","x":0.403,"y":0.052},{"c":"US","x":0.404,"y":0.027},{"c":"US","x":0.405,"y":0.064},{"c":"US","x":0.406,"y":0.011},{"c":"US","x":0.407,"y":0.078},{"c":"US","x":0.408,"y":0.035},{"c":"US","x":0.409,"y":0.055},{"c":"US","x":0.41,"y":0.018},{"c":"US","x":0.411,"y":0.092},{"c":"US","x":0.412,"y":0.045},{"c":"US","x":0.413,"y":0.008},{"c":"US","x":0.414,"y":0.068},{"c":"US","x":0.415,"y":0.03},{"c":"US","x":0.416,"y":0.1},{"c":"US","x":0.417,"y":0.05},{"c":"US","x":0.418,"y":0.021},{"c":"US","x":0.419,"y":0.075},{"c":"US","x":0.42,"y":0.04},{"c":"US","x":0.421,"y":0.012},{"c":"US","x":0.422,"y":0.06},{"c":"US","x":0.423,"y":0.085},{"c":"US","x":0.424,"y":0.028},{"c":"US","x":0.425,"y":0.048},{"c":"US","x":0.426,"y":0.016},{"c":"US","x":0.427,"y":0.07},{"c":"US","x":0.428,"y":0.034},{"c":"US","x":0.429,"y":0.055},{"c":"US","x":0.43,"y":0.009},{"c":"US","x":0.431,"y":0.08},{"c":"US","x":0.432,"y":0.042},{"c":"US","x":0.433,"y":0.024},{"c":"US","x":0.434,"y":0.062},{"c":"US","x":0.435,"y":0.013},{"c":"US","x":0.436,"y":0.045},{"c":"US","x":0.437,"y":0.09},{"c":"US","x":0.438,"y":0.03},{"c":"US","x":0.439,"y":0.066},{"c":"US","x":0.44,"y":0.018},{"c":"US","x":0.441,"y":0.05},{"c":"US","x":0.442,"y":0.076},{"c":"US","x":0.443,"y":0.025},{"c":"US","x":0.444,"y":0.058},{"c":"US","x":0.445,"y":0.04},{"c":"US","x":0.446,"y":0.011},{"c":"US","x":0.447,"y":0.068},{"c":"US","x":0.448,"y":0.032},{"c":"US","x":0.449,"y":0.085},{"c":"US","x":0.45,"y":0.048},{"c":"US","x":0.452,"y":0.02},{"c":"US","x":0.454,"y":0.06},{"c":"US","x":0.456,"y":0.035},
{"c":"US","x":0.232,"y":0.021},{"c":"US","x":0.258,"y":0.023},{"c":"US","x":0.268,"y":0.019},{"c":"US","x":0.267,"y":0.015},{"c":"US","x":0.289,"y":0.009},{"c":"US","x":0.301,"y":0.023},{"c":"US","x":0.326,"y":0.017},{"c":"US","x":0.329,"y":0.009},{"c":"US","x":0.339,"y":0.043},{"c":"US","x":0.341,"y":0.034},{"c":"US","x":0.343,"y":0.026},{"c":"US","x":0.347,"y":0.026},{"c":"US","x":0.348,"y":0.011},
{"c":"US","x":0.22,"y":0},{"c":"US","x":0.227,"y":0},{"c":"US","x":0.23,"y":0},{"c":"US","x":0.245,"y":0},{"c":"US","x":0.249,"y":0},{"c":"US","x":0.254,"y":0},{"c":"US","x":0.257,"y":0},{"c":"US","x":0.264,"y":0},{"c":"US","x":0.267,"y":0},{"c":"US","x":0.272,"y":0},{"c":"US","x":0.275,"y":0},{"c":"US","x":0.278,"y":0},{"c":"US","x":0.28,"y":0},{"c":"US","x":0.283,"y":0},{"c":"US","x":0.289,"y":0},{"c":"US","x":0.301,"y":0},{"c":"US","x":0.304,"y":0},{"c":"US","x":0.31,"y":0},{"c":"US","x":0.313,"y":0},{"c":"US","x":0.316,"y":0},{"c":"US","x":0.319,"y":0},{"c":"US","x":0.322,"y":0},{"c":"US","x":0.325,"y":0},{"c":"US","x":0.328,"y":0},{"c":"US","x":0.331,"y":0},{"c":"US","x":0.334,"y":0},{"c":"US","x":0.337,"y":0},{"c":"US","x":0.34,"y":0},{"c":"US","x":0.343,"y":0},{"c":"US","x":0.346,"y":0},{"c":"US","x":0.349,"y":0},{"c":"US","x":0.352,"y":0},{"c":"US","x":0.355,"y":0},{"c":"US","x":0.358,"y":0},{"c":"US","x":0.361,"y":0},{"c":"US","x":0.364,"y":0},{"c":"US","x":0.367,"y":0},{"c":"US","x":0.37,"y":0},{"c":"US","x":0.373,"y":0},{"c":"US","x":0.376,"y":0},{"c":"US","x":0.379,"y":0},{"c":"US","x":0.382,"y":0},{"c":"US","x":0.385,"y":0},{"c":"US","x":0.388,"y":0},{"c":"US","x":0.391,"y":0},{"c":"US","x":0.394,"y":0},{"c":"US","x":0.397,"y":0},{"c":"US","x":0.4,"y":0},{"c":"US","x":0.403,"y":0},{"c":"US","x":0.406,"y":0},{"c":"US","x":0.409,"y":0},{"c":"US","x":0.412,"y":0},{"c":"US","x":0.415,"y":0},{"c":"US","x":0.418,"y":0},{"c":"US","x":0.421,"y":0},{"c":"US","x":0.424,"y":0},{"c":"US","x":0.427,"y":0},{"c":"US","x":0.43,"y":0},{"c":"US","x":0.433,"y":0},{"c":"US","x":0.436,"y":0},{"c":"US","x":0.439,"y":0},{"c":"US","x":0.442,"y":0},{"c":"US","x":0.445,"y":0},{"c":"US","x":0.448,"y":0},{"c":"US","x":0.451,"y":0},{"c":"US","x":0.454,"y":0},{"c":"US","x":0.457,"y":0}
  ]},
  "mark": {"type": "point", "shape": "circle", "filled": true, "size": 14, "opacity": 1},
  "encoding": {
   "x": {"field": "x", "type": "quantitative", "title": "Strategic x Autonomy", "scale": {"domain": [0.1884, 0.8095], "nice": false, "zero": false}, "axis": {"values": [0.2, 0.4, 0.6, 0.8], "labelExpr": "replace(format(datum.value, '.1~f'), '0.', '.')"}},
   "y": {"field": "y", "type": "quantitative", "title": "Share of Aid Coordinated", "scale": {"domain": [-0.0367, 1.039], "nice": false, "zero": false}, "axis": {"values": [0, 0.2, 0.4, 0.6, 0.8, 1], "labelExpr": "replace(format(datum.value, '.1~f'), '0.', '.')"}},
   "color": {"field": "c", "type": "nominal", "scale": {"domain": ["AU", "CA", "FR", "DE", "SE", "UK", "US"], "range": ["#ff0000", "#ff7f0e", "#ffd700", "#008000", "#0000ff", "#add8e6", "#800080"]}, "legend": {"title": null, "labelExpr": "datum.label == 'AU' ? 'Australia' : datum.label == 'CA' ? 'Canada' : datum.label == 'FR' ? 'France' : datum.label == 'DE' ? 'Germany' : datum.label == 'SE' ? 'Sweden' : datum.label == 'UK' ? 'United Kingdom' : 'United States'"}}
  }
 },
 {
  "data": {"name": "fit"},
  "mark": {"type": "area", "color": "#c0c0c0", "opacity": 1},
  "encoding": {
   "x": {"field": "x", "type": "quantitative", "title": "Strategic x Autonomy", "scale": {"domain": [0.1884, 0.8095], "nice": false, "zero": false}},
   "y": {"field": "lo", "type": "quantitative", "title": "Share of Aid Coordinated", "scale": {"domain": [-0.0367, 1.039], "nice": false, "zero": false}},
   "y2": {"field": "hi"}
  }
 },
 {
  "data": {"name": "fit"},
  "mark": {"type": "line", "color": "#6f8596", "strokeWidth": 4.5},
  "encoding": {
   "x": {"field": "x", "type": "quantitative", "title": "Strategic x Autonomy", "scale": {"domain": [0.1884, 0.8095], "nice": false, "zero": false}},
   "y": {"field": "fit", "type": "quantitative", "title": "Share of Aid Coordinated", "scale": {"domain": [-0.0367, 1.039], "nice": false, "zero": false}}
  }
 },
 {
  "data": {"name": "fit"},
  "mark": {"type": "line", "color": "#ffffff", "strokeWidth": 2.5},
  "encoding": {
   "x": {"field": "x", "type": "quantitative", "title": "Strategic x Autonomy", "scale": {"domain": [0.1884, 0.8095], "nice": false, "zero": false}},
   "y": {"field": "fit", "type": "quantitative", "title": "Share of Aid Coordinated", "scale": {"domain": [-0.0367, 1.039], "nice": false, "zero": false}}
  }
 },
 {
  "data": {"name": "fit"},
  "mark": {"type": "line", "color": "#1a476f", "strokeWidth": 4, "strokeDash": [10, 14]},
  "encoding": {
   "x": {"field": "x", "type": "quantitative", "title": "Strategic x Autonomy", "scale": {"domain": [0.1884, 0.8095], "nice": false, "zero": false}},
   "y": {"field": "fit", "type": "quantitative", "title": "Share of Aid Coordinated", "scale": {"domain": [-0.0367, 1.039], "nice": false, "zero": false}}
  }
 }
]
}
